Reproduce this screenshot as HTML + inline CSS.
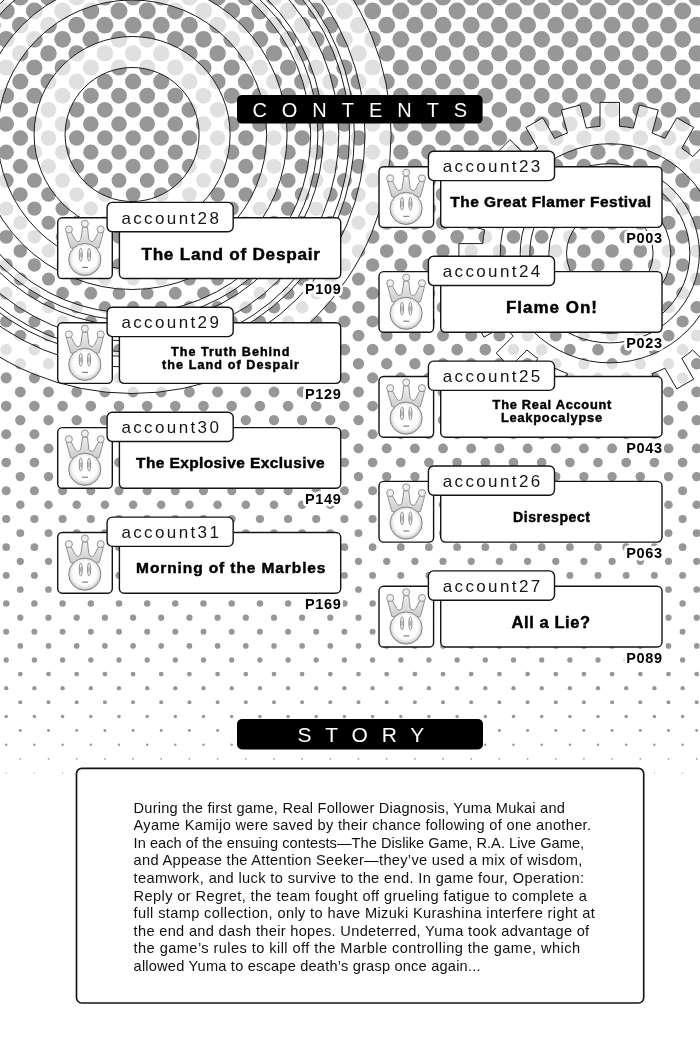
<!DOCTYPE html>
<html lang="en">
<head>
<meta charset="utf-8">
<title>Contents</title>
<style>
html,body{margin:0;padding:0;background:#fff}
body{width:700px;height:1050px;position:relative;overflow:hidden;font-family:"Liberation Sans",sans-serif;color:#000}
.bg{position:absolute;left:0;top:0}
div{position:absolute;white-space:nowrap}
.hd{color:#fff}
.tx{left:0;top:0;width:700px;height:1050px;filter:grayscale(1)}
.ac{font-size:17px;line-height:19.53px;color:#161616}
.tt{font-weight:bold;color:#000;-webkit-text-stroke:.45px #000}
.pg{font-weight:bold;font-size:14.5px;line-height:16.66px;text-shadow:2.60px 0.00px 0 #fff,2.47px 0.80px 0 #fff,2.10px 1.53px 0 #fff,1.53px 2.10px 0 #fff,0.80px 2.47px 0 #fff,0.00px 2.60px 0 #fff,-0.80px 2.47px 0 #fff,-1.53px 2.10px 0 #fff,-2.10px 1.53px 0 #fff,-2.47px 0.80px 0 #fff,-2.60px 0.00px 0 #fff,-2.47px -0.80px 0 #fff,-2.10px -1.53px 0 #fff,-1.53px -2.10px 0 #fff,-0.80px -2.47px 0 #fff,-0.00px -2.60px 0 #fff,0.80px -2.47px 0 #fff,1.53px -2.10px 0 #fff,2.10px -1.53px 0 #fff,2.47px -0.80px 0 #fff,1.60px 0.00px 0 #fff,1.39px 0.80px 0 #fff,0.80px 1.39px 0 #fff,0.00px 1.60px 0 #fff,-0.80px 1.39px 0 #fff,-1.39px 0.80px 0 #fff,-1.60px 0.00px 0 #fff,-1.39px -0.80px 0 #fff,-0.80px -1.39px 0 #fff,-0.00px -1.60px 0 #fff,0.80px -1.39px 0 #fff,1.39px -0.80px 0 #fff,0.80px 0.00px 0 #fff,0.57px 0.57px 0 #fff,0.00px 0.80px 0 #fff,-0.57px 0.57px 0 #fff,-0.80px 0.00px 0 #fff,-0.57px -0.57px 0 #fff,-0.00px -0.80px 0 #fff,0.57px -0.57px 0 #fff}
.sl{font-size:14.6px;line-height:16.78px;color:#111}
</style>
</head>
<body>
<svg class="bg" width="700" height="1050" viewBox="0 0 700 1050">
<defs>
<radialGradient id="ballg" cx="50%" cy="47%" r="52%">
<stop offset="0" stop-color="#ffffff"/><stop offset=".7" stop-color="#fdfdfd"/><stop offset=".86" stop-color="#e6e6e6"/><stop offset="1" stop-color="#b9b9b9"/>
</radialGradient>
<linearGradient id="crg" x1="0" y1="0" x2="0" y2="1">
<stop offset="0" stop-color="#eeeeee"/><stop offset="1" stop-color="#cdcdcd"/>
</linearGradient>
<linearGradient id="eyg" x1="0" y1="0" x2="0" y2="1">
<stop offset="0" stop-color="#ffffff"/><stop offset=".22" stop-color="#ffffff"/><stop offset=".4" stop-color="#bdbdbd"/><stop offset=".62" stop-color="#bdbdbd"/><stop offset=".8" stop-color="#ffffff"/><stop offset="1" stop-color="#ffffff"/>
</linearGradient>
<g id="ico">
<path d="M9.4 15.2 Q11 22 13.7 31 L42 31 Q44.8 22 46.2 15.2 L41.2 15.5 Q39 20 37.3 23 Q36.4 24.6 35.5 24.6 Q33 24.6 31.9 22.3 Q31 16 30.5 10.2 L25.5 10.2 Q25 16 23.7 22.3 Q22.8 24.6 20.5 24.6 Q19.4 24.6 18.5 23 Q16.5 20 14.4 15.5 Z" fill="url(#crg)" stroke="#8e8e8e" stroke-width="1" stroke-linejoin="round"/>
<circle cx="11.9" cy="12.3" r="3.5" fill="#efefef" stroke="#929292" stroke-width="1"/>
<circle cx="27.9" cy="6.6" r="3.5" fill="#efefef" stroke="#929292" stroke-width="1"/>
<circle cx="43.7" cy="12.3" r="3.5" fill="#efefef" stroke="#929292" stroke-width="1"/>
<circle cx="27.8" cy="42.4" r="16.1" fill="url(#ballg)" stroke="#848484" stroke-width="1"/>
<ellipse cx="23.75" cy="37.7" rx="1.55" ry="6.5" fill="url(#eyg)" stroke="#8a8a8a" stroke-width=".95"/>
<ellipse cx="32.1" cy="37.7" rx="1.55" ry="6.5" fill="url(#eyg)" stroke="#8a8a8a" stroke-width=".95"/>
<path d="M25.1 50.3H31" stroke="#6a6a6a" stroke-width="1"/>
</g>
</defs>
<g fill="#979797">
<circle cx="-7.8" cy="-3.0" r="8.57"/><circle cx="20.3" cy="-3.0" r="8.57"/><circle cx="48.5" cy="-3.0" r="8.57"/><circle cx="76.7" cy="-3.0" r="8.57"/><circle cx="104.9" cy="-3.0" r="8.57"/><circle cx="133.1" cy="-3.0" r="8.57"/><circle cx="161.2" cy="-3.0" r="8.57"/><circle cx="189.4" cy="-3.0" r="8.57"/><circle cx="217.6" cy="-3.0" r="8.57"/><circle cx="245.8" cy="-3.0" r="8.57"/><circle cx="274.0" cy="-3.0" r="8.57"/><circle cx="302.1" cy="-3.0" r="8.57"/><circle cx="330.3" cy="-3.0" r="8.57"/><circle cx="358.5" cy="-3.0" r="8.57"/><circle cx="386.7" cy="-3.0" r="8.57"/><circle cx="414.9" cy="-3.0" r="8.57"/><circle cx="443.0" cy="-3.0" r="8.57"/><circle cx="471.2" cy="-3.0" r="8.57"/><circle cx="499.4" cy="-3.0" r="8.57"/><circle cx="527.6" cy="-3.0" r="8.57"/><circle cx="555.8" cy="-3.0" r="8.57"/><circle cx="583.9" cy="-3.0" r="8.57"/><circle cx="612.1" cy="-3.0" r="8.57"/><circle cx="640.3" cy="-3.0" r="8.57"/><circle cx="668.5" cy="-3.0" r="8.57"/><circle cx="696.7" cy="-3.0" r="8.57"/><circle cx="724.8" cy="-3.0" r="8.57"/>
<circle cx="6.2" cy="11.1" r="8.50"/><circle cx="34.4" cy="11.1" r="8.50"/><circle cx="62.6" cy="11.1" r="8.50"/><circle cx="90.8" cy="11.1" r="8.50"/><circle cx="119.0" cy="11.1" r="8.50"/><circle cx="147.2" cy="11.1" r="8.50"/><circle cx="175.3" cy="11.1" r="8.50"/><circle cx="203.5" cy="11.1" r="8.50"/><circle cx="231.7" cy="11.1" r="8.50"/><circle cx="259.9" cy="11.1" r="8.50"/><circle cx="288.1" cy="11.1" r="8.50"/><circle cx="316.2" cy="11.1" r="8.50"/><circle cx="344.4" cy="11.1" r="8.50"/><circle cx="372.6" cy="11.1" r="8.50"/><circle cx="400.8" cy="11.1" r="8.50"/><circle cx="428.9" cy="11.1" r="8.50"/><circle cx="457.1" cy="11.1" r="8.50"/><circle cx="485.3" cy="11.1" r="8.50"/><circle cx="513.5" cy="11.1" r="8.50"/><circle cx="541.7" cy="11.1" r="8.50"/><circle cx="569.9" cy="11.1" r="8.50"/><circle cx="598.0" cy="11.1" r="8.50"/><circle cx="626.2" cy="11.1" r="8.50"/><circle cx="654.4" cy="11.1" r="8.50"/><circle cx="682.6" cy="11.1" r="8.50"/><circle cx="710.8" cy="11.1" r="8.50"/>
<circle cx="-7.8" cy="25.2" r="8.42"/><circle cx="20.3" cy="25.2" r="8.42"/><circle cx="48.5" cy="25.2" r="8.42"/><circle cx="76.7" cy="25.2" r="8.42"/><circle cx="104.9" cy="25.2" r="8.42"/><circle cx="133.1" cy="25.2" r="8.42"/><circle cx="161.2" cy="25.2" r="8.42"/><circle cx="189.4" cy="25.2" r="8.42"/><circle cx="217.6" cy="25.2" r="8.42"/><circle cx="245.8" cy="25.2" r="8.42"/><circle cx="274.0" cy="25.2" r="8.42"/><circle cx="302.1" cy="25.2" r="8.42"/><circle cx="330.3" cy="25.2" r="8.42"/><circle cx="358.5" cy="25.2" r="8.42"/><circle cx="386.7" cy="25.2" r="8.42"/><circle cx="414.9" cy="25.2" r="8.42"/><circle cx="443.0" cy="25.2" r="8.42"/><circle cx="471.2" cy="25.2" r="8.42"/><circle cx="499.4" cy="25.2" r="8.42"/><circle cx="527.6" cy="25.2" r="8.42"/><circle cx="555.8" cy="25.2" r="8.42"/><circle cx="583.9" cy="25.2" r="8.42"/><circle cx="612.1" cy="25.2" r="8.42"/><circle cx="640.3" cy="25.2" r="8.42"/><circle cx="668.5" cy="25.2" r="8.42"/><circle cx="696.7" cy="25.2" r="8.42"/><circle cx="724.8" cy="25.2" r="8.42"/>
<circle cx="6.2" cy="39.3" r="8.35"/><circle cx="34.4" cy="39.3" r="8.35"/><circle cx="62.6" cy="39.3" r="8.35"/><circle cx="90.8" cy="39.3" r="8.35"/><circle cx="119.0" cy="39.3" r="8.35"/><circle cx="147.2" cy="39.3" r="8.35"/><circle cx="175.3" cy="39.3" r="8.35"/><circle cx="203.5" cy="39.3" r="8.35"/><circle cx="231.7" cy="39.3" r="8.35"/><circle cx="259.9" cy="39.3" r="8.35"/><circle cx="288.1" cy="39.3" r="8.35"/><circle cx="316.2" cy="39.3" r="8.35"/><circle cx="344.4" cy="39.3" r="8.35"/><circle cx="372.6" cy="39.3" r="8.35"/><circle cx="400.8" cy="39.3" r="8.35"/><circle cx="428.9" cy="39.3" r="8.35"/><circle cx="457.1" cy="39.3" r="8.35"/><circle cx="485.3" cy="39.3" r="8.35"/><circle cx="513.5" cy="39.3" r="8.35"/><circle cx="541.7" cy="39.3" r="8.35"/><circle cx="569.9" cy="39.3" r="8.35"/><circle cx="598.0" cy="39.3" r="8.35"/><circle cx="626.2" cy="39.3" r="8.35"/><circle cx="654.4" cy="39.3" r="8.35"/><circle cx="682.6" cy="39.3" r="8.35"/><circle cx="710.8" cy="39.3" r="8.35"/>
<circle cx="-7.8" cy="53.4" r="8.22"/><circle cx="20.3" cy="53.4" r="8.22"/><circle cx="48.5" cy="53.4" r="8.22"/><circle cx="76.7" cy="53.4" r="8.22"/><circle cx="104.9" cy="53.4" r="8.22"/><circle cx="133.1" cy="53.4" r="8.22"/><circle cx="161.2" cy="53.4" r="8.22"/><circle cx="189.4" cy="53.4" r="8.22"/><circle cx="217.6" cy="53.4" r="8.22"/><circle cx="245.8" cy="53.4" r="8.22"/><circle cx="274.0" cy="53.4" r="8.22"/><circle cx="302.1" cy="53.4" r="8.22"/><circle cx="330.3" cy="53.4" r="8.22"/><circle cx="358.5" cy="53.4" r="8.22"/><circle cx="386.7" cy="53.4" r="8.22"/><circle cx="414.9" cy="53.4" r="8.22"/><circle cx="443.0" cy="53.4" r="8.22"/><circle cx="471.2" cy="53.4" r="8.22"/><circle cx="499.4" cy="53.4" r="8.22"/><circle cx="527.6" cy="53.4" r="8.22"/><circle cx="555.8" cy="53.4" r="8.22"/><circle cx="583.9" cy="53.4" r="8.22"/><circle cx="612.1" cy="53.4" r="8.22"/><circle cx="640.3" cy="53.4" r="8.22"/><circle cx="668.5" cy="53.4" r="8.22"/><circle cx="696.7" cy="53.4" r="8.22"/><circle cx="724.8" cy="53.4" r="8.22"/>
<circle cx="6.2" cy="67.5" r="8.10"/><circle cx="34.4" cy="67.5" r="8.10"/><circle cx="62.6" cy="67.5" r="8.10"/><circle cx="90.8" cy="67.5" r="8.10"/><circle cx="119.0" cy="67.5" r="8.10"/><circle cx="147.2" cy="67.5" r="8.10"/><circle cx="175.3" cy="67.5" r="8.10"/><circle cx="203.5" cy="67.5" r="8.10"/><circle cx="231.7" cy="67.5" r="8.10"/><circle cx="259.9" cy="67.5" r="8.10"/><circle cx="288.1" cy="67.5" r="8.10"/><circle cx="316.2" cy="67.5" r="8.10"/><circle cx="344.4" cy="67.5" r="8.10"/><circle cx="372.6" cy="67.5" r="8.10"/><circle cx="400.8" cy="67.5" r="8.10"/><circle cx="428.9" cy="67.5" r="8.10"/><circle cx="457.1" cy="67.5" r="8.10"/><circle cx="485.3" cy="67.5" r="8.10"/><circle cx="513.5" cy="67.5" r="8.10"/><circle cx="541.7" cy="67.5" r="8.10"/><circle cx="569.9" cy="67.5" r="8.10"/><circle cx="598.0" cy="67.5" r="8.10"/><circle cx="626.2" cy="67.5" r="8.10"/><circle cx="654.4" cy="67.5" r="8.10"/><circle cx="682.6" cy="67.5" r="8.10"/><circle cx="710.8" cy="67.5" r="8.10"/>
<circle cx="-7.8" cy="81.6" r="8.00"/><circle cx="20.3" cy="81.6" r="8.00"/><circle cx="48.5" cy="81.6" r="8.00"/><circle cx="76.7" cy="81.6" r="8.00"/><circle cx="104.9" cy="81.6" r="8.00"/><circle cx="133.1" cy="81.6" r="8.00"/><circle cx="161.2" cy="81.6" r="8.00"/><circle cx="189.4" cy="81.6" r="8.00"/><circle cx="217.6" cy="81.6" r="8.00"/><circle cx="245.8" cy="81.6" r="8.00"/><circle cx="274.0" cy="81.6" r="8.00"/><circle cx="302.1" cy="81.6" r="8.00"/><circle cx="330.3" cy="81.6" r="8.00"/><circle cx="358.5" cy="81.6" r="8.00"/><circle cx="386.7" cy="81.6" r="8.00"/><circle cx="414.9" cy="81.6" r="8.00"/><circle cx="443.0" cy="81.6" r="8.00"/><circle cx="471.2" cy="81.6" r="8.00"/><circle cx="499.4" cy="81.6" r="8.00"/><circle cx="527.6" cy="81.6" r="8.00"/><circle cx="555.8" cy="81.6" r="8.00"/><circle cx="583.9" cy="81.6" r="8.00"/><circle cx="612.1" cy="81.6" r="8.00"/><circle cx="640.3" cy="81.6" r="8.00"/><circle cx="668.5" cy="81.6" r="8.00"/><circle cx="696.7" cy="81.6" r="8.00"/><circle cx="724.8" cy="81.6" r="8.00"/>
<circle cx="6.2" cy="95.7" r="7.94"/><circle cx="34.4" cy="95.7" r="7.94"/><circle cx="62.6" cy="95.7" r="7.94"/><circle cx="90.8" cy="95.7" r="7.94"/><circle cx="119.0" cy="95.7" r="7.94"/><circle cx="147.2" cy="95.7" r="7.94"/><circle cx="175.3" cy="95.7" r="7.94"/><circle cx="203.5" cy="95.7" r="7.94"/><circle cx="231.7" cy="95.7" r="7.94"/><circle cx="259.9" cy="95.7" r="7.94"/><circle cx="288.1" cy="95.7" r="7.94"/><circle cx="316.2" cy="95.7" r="7.94"/><circle cx="344.4" cy="95.7" r="7.94"/><circle cx="372.6" cy="95.7" r="7.94"/><circle cx="400.8" cy="95.7" r="7.94"/><circle cx="428.9" cy="95.7" r="7.94"/><circle cx="457.1" cy="95.7" r="7.94"/><circle cx="485.3" cy="95.7" r="7.94"/><circle cx="513.5" cy="95.7" r="7.94"/><circle cx="541.7" cy="95.7" r="7.94"/><circle cx="569.9" cy="95.7" r="7.94"/><circle cx="598.0" cy="95.7" r="7.94"/><circle cx="626.2" cy="95.7" r="7.94"/><circle cx="654.4" cy="95.7" r="7.94"/><circle cx="682.6" cy="95.7" r="7.94"/><circle cx="710.8" cy="95.7" r="7.94"/>
<circle cx="-7.8" cy="109.8" r="7.88"/><circle cx="20.3" cy="109.8" r="7.88"/><circle cx="48.5" cy="109.8" r="7.88"/><circle cx="76.7" cy="109.8" r="7.88"/><circle cx="104.9" cy="109.8" r="7.88"/><circle cx="133.1" cy="109.8" r="7.88"/><circle cx="161.2" cy="109.8" r="7.88"/><circle cx="189.4" cy="109.8" r="7.88"/><circle cx="217.6" cy="109.8" r="7.88"/><circle cx="245.8" cy="109.8" r="7.88"/><circle cx="274.0" cy="109.8" r="7.88"/><circle cx="302.1" cy="109.8" r="7.88"/><circle cx="330.3" cy="109.8" r="7.88"/><circle cx="358.5" cy="109.8" r="7.88"/><circle cx="386.7" cy="109.8" r="7.88"/><circle cx="414.9" cy="109.8" r="7.88"/><circle cx="443.0" cy="109.8" r="7.88"/><circle cx="471.2" cy="109.8" r="7.88"/><circle cx="499.4" cy="109.8" r="7.88"/><circle cx="527.6" cy="109.8" r="7.88"/><circle cx="555.8" cy="109.8" r="7.88"/><circle cx="583.9" cy="109.8" r="7.88"/><circle cx="612.1" cy="109.8" r="7.88"/><circle cx="640.3" cy="109.8" r="7.88"/><circle cx="668.5" cy="109.8" r="7.88"/><circle cx="696.7" cy="109.8" r="7.88"/><circle cx="724.8" cy="109.8" r="7.88"/>
<circle cx="6.2" cy="124.0" r="7.82"/><circle cx="34.4" cy="124.0" r="7.82"/><circle cx="62.6" cy="124.0" r="7.82"/><circle cx="90.8" cy="124.0" r="7.82"/><circle cx="119.0" cy="124.0" r="7.82"/><circle cx="147.2" cy="124.0" r="7.82"/><circle cx="175.3" cy="124.0" r="7.82"/><circle cx="203.5" cy="124.0" r="7.82"/><circle cx="231.7" cy="124.0" r="7.82"/><circle cx="259.9" cy="124.0" r="7.82"/><circle cx="288.1" cy="124.0" r="7.82"/><circle cx="316.2" cy="124.0" r="7.82"/><circle cx="344.4" cy="124.0" r="7.82"/><circle cx="372.6" cy="124.0" r="7.82"/><circle cx="400.8" cy="124.0" r="7.82"/><circle cx="428.9" cy="124.0" r="7.82"/><circle cx="457.1" cy="124.0" r="7.82"/><circle cx="485.3" cy="124.0" r="7.82"/><circle cx="513.5" cy="124.0" r="7.82"/><circle cx="541.7" cy="124.0" r="7.82"/><circle cx="569.9" cy="124.0" r="7.82"/><circle cx="598.0" cy="124.0" r="7.82"/><circle cx="626.2" cy="124.0" r="7.82"/><circle cx="654.4" cy="124.0" r="7.82"/><circle cx="682.6" cy="124.0" r="7.82"/><circle cx="710.8" cy="124.0" r="7.82"/>
<circle cx="-7.8" cy="138.1" r="7.76"/><circle cx="20.3" cy="138.1" r="7.76"/><circle cx="48.5" cy="138.1" r="7.76"/><circle cx="76.7" cy="138.1" r="7.76"/><circle cx="104.9" cy="138.1" r="7.76"/><circle cx="133.1" cy="138.1" r="7.76"/><circle cx="161.2" cy="138.1" r="7.76"/><circle cx="189.4" cy="138.1" r="7.76"/><circle cx="217.6" cy="138.1" r="7.76"/><circle cx="245.8" cy="138.1" r="7.76"/><circle cx="274.0" cy="138.1" r="7.76"/><circle cx="302.1" cy="138.1" r="7.76"/><circle cx="330.3" cy="138.1" r="7.76"/><circle cx="358.5" cy="138.1" r="7.76"/><circle cx="386.7" cy="138.1" r="7.76"/><circle cx="414.9" cy="138.1" r="7.76"/><circle cx="443.0" cy="138.1" r="7.76"/><circle cx="471.2" cy="138.1" r="7.76"/><circle cx="499.4" cy="138.1" r="7.76"/><circle cx="527.6" cy="138.1" r="7.76"/><circle cx="555.8" cy="138.1" r="7.76"/><circle cx="583.9" cy="138.1" r="7.76"/><circle cx="612.1" cy="138.1" r="7.76"/><circle cx="640.3" cy="138.1" r="7.76"/><circle cx="668.5" cy="138.1" r="7.76"/><circle cx="696.7" cy="138.1" r="7.76"/><circle cx="724.8" cy="138.1" r="7.76"/>
<circle cx="6.2" cy="152.2" r="7.65"/><circle cx="34.4" cy="152.2" r="7.65"/><circle cx="62.6" cy="152.2" r="7.65"/><circle cx="90.8" cy="152.2" r="7.65"/><circle cx="119.0" cy="152.2" r="7.65"/><circle cx="147.2" cy="152.2" r="7.65"/><circle cx="175.3" cy="152.2" r="7.65"/><circle cx="203.5" cy="152.2" r="7.65"/><circle cx="231.7" cy="152.2" r="7.65"/><circle cx="259.9" cy="152.2" r="7.65"/><circle cx="288.1" cy="152.2" r="7.65"/><circle cx="316.2" cy="152.2" r="7.65"/><circle cx="344.4" cy="152.2" r="7.65"/><circle cx="372.6" cy="152.2" r="7.65"/><circle cx="400.8" cy="152.2" r="7.65"/><circle cx="428.9" cy="152.2" r="7.65"/><circle cx="457.1" cy="152.2" r="7.65"/><circle cx="485.3" cy="152.2" r="7.65"/><circle cx="513.5" cy="152.2" r="7.65"/><circle cx="541.7" cy="152.2" r="7.65"/><circle cx="569.9" cy="152.2" r="7.65"/><circle cx="598.0" cy="152.2" r="7.65"/><circle cx="626.2" cy="152.2" r="7.65"/><circle cx="654.4" cy="152.2" r="7.65"/><circle cx="682.6" cy="152.2" r="7.65"/><circle cx="710.8" cy="152.2" r="7.65"/>
<circle cx="-7.8" cy="166.3" r="7.53"/><circle cx="20.3" cy="166.3" r="7.53"/><circle cx="48.5" cy="166.3" r="7.53"/><circle cx="76.7" cy="166.3" r="7.53"/><circle cx="104.9" cy="166.3" r="7.53"/><circle cx="133.1" cy="166.3" r="7.53"/><circle cx="161.2" cy="166.3" r="7.53"/><circle cx="189.4" cy="166.3" r="7.53"/><circle cx="217.6" cy="166.3" r="7.53"/><circle cx="245.8" cy="166.3" r="7.53"/><circle cx="274.0" cy="166.3" r="7.53"/><circle cx="302.1" cy="166.3" r="7.53"/><circle cx="330.3" cy="166.3" r="7.53"/><circle cx="358.5" cy="166.3" r="7.53"/><circle cx="386.7" cy="166.3" r="7.53"/><circle cx="414.9" cy="166.3" r="7.53"/><circle cx="443.0" cy="166.3" r="7.53"/><circle cx="471.2" cy="166.3" r="7.53"/><circle cx="499.4" cy="166.3" r="7.53"/><circle cx="527.6" cy="166.3" r="7.53"/><circle cx="555.8" cy="166.3" r="7.53"/><circle cx="583.9" cy="166.3" r="7.53"/><circle cx="612.1" cy="166.3" r="7.53"/><circle cx="640.3" cy="166.3" r="7.53"/><circle cx="668.5" cy="166.3" r="7.53"/><circle cx="696.7" cy="166.3" r="7.53"/><circle cx="724.8" cy="166.3" r="7.53"/>
<circle cx="6.2" cy="180.4" r="7.41"/><circle cx="34.4" cy="180.4" r="7.41"/><circle cx="62.6" cy="180.4" r="7.41"/><circle cx="90.8" cy="180.4" r="7.41"/><circle cx="119.0" cy="180.4" r="7.41"/><circle cx="147.2" cy="180.4" r="7.41"/><circle cx="175.3" cy="180.4" r="7.41"/><circle cx="203.5" cy="180.4" r="7.41"/><circle cx="231.7" cy="180.4" r="7.41"/><circle cx="259.9" cy="180.4" r="7.41"/><circle cx="288.1" cy="180.4" r="7.41"/><circle cx="316.2" cy="180.4" r="7.41"/><circle cx="344.4" cy="180.4" r="7.41"/><circle cx="372.6" cy="180.4" r="7.41"/><circle cx="400.8" cy="180.4" r="7.41"/><circle cx="428.9" cy="180.4" r="7.41"/><circle cx="457.1" cy="180.4" r="7.41"/><circle cx="485.3" cy="180.4" r="7.41"/><circle cx="513.5" cy="180.4" r="7.41"/><circle cx="541.7" cy="180.4" r="7.41"/><circle cx="569.9" cy="180.4" r="7.41"/><circle cx="598.0" cy="180.4" r="7.41"/><circle cx="626.2" cy="180.4" r="7.41"/><circle cx="654.4" cy="180.4" r="7.41"/><circle cx="682.6" cy="180.4" r="7.41"/><circle cx="710.8" cy="180.4" r="7.41"/>
<circle cx="-7.8" cy="194.5" r="7.30"/><circle cx="20.3" cy="194.5" r="7.30"/><circle cx="48.5" cy="194.5" r="7.30"/><circle cx="76.7" cy="194.5" r="7.30"/><circle cx="104.9" cy="194.5" r="7.30"/><circle cx="133.1" cy="194.5" r="7.30"/><circle cx="161.2" cy="194.5" r="7.30"/><circle cx="189.4" cy="194.5" r="7.30"/><circle cx="217.6" cy="194.5" r="7.30"/><circle cx="245.8" cy="194.5" r="7.30"/><circle cx="274.0" cy="194.5" r="7.30"/><circle cx="302.1" cy="194.5" r="7.30"/><circle cx="330.3" cy="194.5" r="7.30"/><circle cx="358.5" cy="194.5" r="7.30"/><circle cx="386.7" cy="194.5" r="7.30"/><circle cx="414.9" cy="194.5" r="7.30"/><circle cx="443.0" cy="194.5" r="7.30"/><circle cx="471.2" cy="194.5" r="7.30"/><circle cx="499.4" cy="194.5" r="7.30"/><circle cx="527.6" cy="194.5" r="7.30"/><circle cx="555.8" cy="194.5" r="7.30"/><circle cx="583.9" cy="194.5" r="7.30"/><circle cx="612.1" cy="194.5" r="7.30"/><circle cx="640.3" cy="194.5" r="7.30"/><circle cx="668.5" cy="194.5" r="7.30"/><circle cx="696.7" cy="194.5" r="7.30"/><circle cx="724.8" cy="194.5" r="7.30"/>
<circle cx="6.2" cy="208.6" r="7.17"/><circle cx="34.4" cy="208.6" r="7.17"/><circle cx="62.6" cy="208.6" r="7.17"/><circle cx="90.8" cy="208.6" r="7.17"/><circle cx="119.0" cy="208.6" r="7.17"/><circle cx="147.2" cy="208.6" r="7.17"/><circle cx="175.3" cy="208.6" r="7.17"/><circle cx="203.5" cy="208.6" r="7.17"/><circle cx="231.7" cy="208.6" r="7.17"/><circle cx="259.9" cy="208.6" r="7.17"/><circle cx="288.1" cy="208.6" r="7.17"/><circle cx="316.2" cy="208.6" r="7.17"/><circle cx="344.4" cy="208.6" r="7.17"/><circle cx="372.6" cy="208.6" r="7.17"/><circle cx="400.8" cy="208.6" r="7.17"/><circle cx="428.9" cy="208.6" r="7.17"/><circle cx="457.1" cy="208.6" r="7.17"/><circle cx="485.3" cy="208.6" r="7.17"/><circle cx="513.5" cy="208.6" r="7.17"/><circle cx="541.7" cy="208.6" r="7.17"/><circle cx="569.9" cy="208.6" r="7.17"/><circle cx="598.0" cy="208.6" r="7.17"/><circle cx="626.2" cy="208.6" r="7.17"/><circle cx="654.4" cy="208.6" r="7.17"/><circle cx="682.6" cy="208.6" r="7.17"/><circle cx="710.8" cy="208.6" r="7.17"/>
<circle cx="-7.8" cy="222.7" r="7.04"/><circle cx="20.3" cy="222.7" r="7.04"/><circle cx="48.5" cy="222.7" r="7.04"/><circle cx="76.7" cy="222.7" r="7.04"/><circle cx="104.9" cy="222.7" r="7.04"/><circle cx="133.1" cy="222.7" r="7.04"/><circle cx="161.2" cy="222.7" r="7.04"/><circle cx="189.4" cy="222.7" r="7.04"/><circle cx="217.6" cy="222.7" r="7.04"/><circle cx="245.8" cy="222.7" r="7.04"/><circle cx="274.0" cy="222.7" r="7.04"/><circle cx="302.1" cy="222.7" r="7.04"/><circle cx="330.3" cy="222.7" r="7.04"/><circle cx="358.5" cy="222.7" r="7.04"/><circle cx="386.7" cy="222.7" r="7.04"/><circle cx="414.9" cy="222.7" r="7.04"/><circle cx="443.0" cy="222.7" r="7.04"/><circle cx="471.2" cy="222.7" r="7.04"/><circle cx="499.4" cy="222.7" r="7.04"/><circle cx="527.6" cy="222.7" r="7.04"/><circle cx="555.8" cy="222.7" r="7.04"/><circle cx="583.9" cy="222.7" r="7.04"/><circle cx="612.1" cy="222.7" r="7.04"/><circle cx="640.3" cy="222.7" r="7.04"/><circle cx="668.5" cy="222.7" r="7.04"/><circle cx="696.7" cy="222.7" r="7.04"/><circle cx="724.8" cy="222.7" r="7.04"/>
<circle cx="6.2" cy="236.8" r="6.90"/><circle cx="34.4" cy="236.8" r="6.90"/><circle cx="62.6" cy="236.8" r="6.90"/><circle cx="90.8" cy="236.8" r="6.90"/><circle cx="119.0" cy="236.8" r="6.90"/><circle cx="147.2" cy="236.8" r="6.90"/><circle cx="175.3" cy="236.8" r="6.90"/><circle cx="203.5" cy="236.8" r="6.90"/><circle cx="231.7" cy="236.8" r="6.90"/><circle cx="259.9" cy="236.8" r="6.90"/><circle cx="288.1" cy="236.8" r="6.90"/><circle cx="316.2" cy="236.8" r="6.90"/><circle cx="344.4" cy="236.8" r="6.90"/><circle cx="372.6" cy="236.8" r="6.90"/><circle cx="400.8" cy="236.8" r="6.90"/><circle cx="428.9" cy="236.8" r="6.90"/><circle cx="457.1" cy="236.8" r="6.90"/><circle cx="485.3" cy="236.8" r="6.90"/><circle cx="513.5" cy="236.8" r="6.90"/><circle cx="541.7" cy="236.8" r="6.90"/><circle cx="569.9" cy="236.8" r="6.90"/><circle cx="598.0" cy="236.8" r="6.90"/><circle cx="626.2" cy="236.8" r="6.90"/><circle cx="654.4" cy="236.8" r="6.90"/><circle cx="682.6" cy="236.8" r="6.90"/><circle cx="710.8" cy="236.8" r="6.90"/>
<circle cx="-7.8" cy="250.9" r="6.77"/><circle cx="20.3" cy="250.9" r="6.77"/><circle cx="48.5" cy="250.9" r="6.77"/><circle cx="76.7" cy="250.9" r="6.77"/><circle cx="104.9" cy="250.9" r="6.77"/><circle cx="133.1" cy="250.9" r="6.77"/><circle cx="161.2" cy="250.9" r="6.77"/><circle cx="189.4" cy="250.9" r="6.77"/><circle cx="217.6" cy="250.9" r="6.77"/><circle cx="245.8" cy="250.9" r="6.77"/><circle cx="274.0" cy="250.9" r="6.77"/><circle cx="302.1" cy="250.9" r="6.77"/><circle cx="330.3" cy="250.9" r="6.77"/><circle cx="358.5" cy="250.9" r="6.77"/><circle cx="386.7" cy="250.9" r="6.77"/><circle cx="414.9" cy="250.9" r="6.77"/><circle cx="443.0" cy="250.9" r="6.77"/><circle cx="471.2" cy="250.9" r="6.77"/><circle cx="499.4" cy="250.9" r="6.77"/><circle cx="527.6" cy="250.9" r="6.77"/><circle cx="555.8" cy="250.9" r="6.77"/><circle cx="583.9" cy="250.9" r="6.77"/><circle cx="612.1" cy="250.9" r="6.77"/><circle cx="640.3" cy="250.9" r="6.77"/><circle cx="668.5" cy="250.9" r="6.77"/><circle cx="696.7" cy="250.9" r="6.77"/><circle cx="724.8" cy="250.9" r="6.77"/>
<circle cx="6.2" cy="265.0" r="6.64"/><circle cx="34.4" cy="265.0" r="6.64"/><circle cx="62.6" cy="265.0" r="6.64"/><circle cx="90.8" cy="265.0" r="6.64"/><circle cx="119.0" cy="265.0" r="6.64"/><circle cx="147.2" cy="265.0" r="6.64"/><circle cx="175.3" cy="265.0" r="6.64"/><circle cx="203.5" cy="265.0" r="6.64"/><circle cx="231.7" cy="265.0" r="6.64"/><circle cx="259.9" cy="265.0" r="6.64"/><circle cx="288.1" cy="265.0" r="6.64"/><circle cx="316.2" cy="265.0" r="6.64"/><circle cx="344.4" cy="265.0" r="6.64"/><circle cx="372.6" cy="265.0" r="6.64"/><circle cx="400.8" cy="265.0" r="6.64"/><circle cx="428.9" cy="265.0" r="6.64"/><circle cx="457.1" cy="265.0" r="6.64"/><circle cx="485.3" cy="265.0" r="6.64"/><circle cx="513.5" cy="265.0" r="6.64"/><circle cx="541.7" cy="265.0" r="6.64"/><circle cx="569.9" cy="265.0" r="6.64"/><circle cx="598.0" cy="265.0" r="6.64"/><circle cx="626.2" cy="265.0" r="6.64"/><circle cx="654.4" cy="265.0" r="6.64"/><circle cx="682.6" cy="265.0" r="6.64"/><circle cx="710.8" cy="265.0" r="6.64"/>
<circle cx="-7.8" cy="279.1" r="6.51"/><circle cx="20.3" cy="279.1" r="6.51"/><circle cx="48.5" cy="279.1" r="6.51"/><circle cx="76.7" cy="279.1" r="6.51"/><circle cx="104.9" cy="279.1" r="6.51"/><circle cx="133.1" cy="279.1" r="6.51"/><circle cx="161.2" cy="279.1" r="6.51"/><circle cx="189.4" cy="279.1" r="6.51"/><circle cx="217.6" cy="279.1" r="6.51"/><circle cx="245.8" cy="279.1" r="6.51"/><circle cx="274.0" cy="279.1" r="6.51"/><circle cx="302.1" cy="279.1" r="6.51"/><circle cx="330.3" cy="279.1" r="6.51"/><circle cx="358.5" cy="279.1" r="6.51"/><circle cx="386.7" cy="279.1" r="6.51"/><circle cx="414.9" cy="279.1" r="6.51"/><circle cx="443.0" cy="279.1" r="6.51"/><circle cx="471.2" cy="279.1" r="6.51"/><circle cx="499.4" cy="279.1" r="6.51"/><circle cx="527.6" cy="279.1" r="6.51"/><circle cx="555.8" cy="279.1" r="6.51"/><circle cx="583.9" cy="279.1" r="6.51"/><circle cx="612.1" cy="279.1" r="6.51"/><circle cx="640.3" cy="279.1" r="6.51"/><circle cx="668.5" cy="279.1" r="6.51"/><circle cx="696.7" cy="279.1" r="6.51"/><circle cx="724.8" cy="279.1" r="6.51"/>
<circle cx="6.2" cy="293.2" r="6.38"/><circle cx="34.4" cy="293.2" r="6.38"/><circle cx="62.6" cy="293.2" r="6.38"/><circle cx="90.8" cy="293.2" r="6.38"/><circle cx="119.0" cy="293.2" r="6.38"/><circle cx="147.2" cy="293.2" r="6.38"/><circle cx="175.3" cy="293.2" r="6.38"/><circle cx="203.5" cy="293.2" r="6.38"/><circle cx="231.7" cy="293.2" r="6.38"/><circle cx="259.9" cy="293.2" r="6.38"/><circle cx="288.1" cy="293.2" r="6.38"/><circle cx="316.2" cy="293.2" r="6.38"/><circle cx="344.4" cy="293.2" r="6.38"/><circle cx="372.6" cy="293.2" r="6.38"/><circle cx="400.8" cy="293.2" r="6.38"/><circle cx="428.9" cy="293.2" r="6.38"/><circle cx="457.1" cy="293.2" r="6.38"/><circle cx="485.3" cy="293.2" r="6.38"/><circle cx="513.5" cy="293.2" r="6.38"/><circle cx="541.7" cy="293.2" r="6.38"/><circle cx="569.9" cy="293.2" r="6.38"/><circle cx="598.0" cy="293.2" r="6.38"/><circle cx="626.2" cy="293.2" r="6.38"/><circle cx="654.4" cy="293.2" r="6.38"/><circle cx="682.6" cy="293.2" r="6.38"/><circle cx="710.8" cy="293.2" r="6.38"/>
<circle cx="-7.8" cy="307.3" r="6.25"/><circle cx="20.3" cy="307.3" r="6.25"/><circle cx="48.5" cy="307.3" r="6.25"/><circle cx="76.7" cy="307.3" r="6.25"/><circle cx="104.9" cy="307.3" r="6.25"/><circle cx="133.1" cy="307.3" r="6.25"/><circle cx="161.2" cy="307.3" r="6.25"/><circle cx="189.4" cy="307.3" r="6.25"/><circle cx="217.6" cy="307.3" r="6.25"/><circle cx="245.8" cy="307.3" r="6.25"/><circle cx="274.0" cy="307.3" r="6.25"/><circle cx="302.1" cy="307.3" r="6.25"/><circle cx="330.3" cy="307.3" r="6.25"/><circle cx="358.5" cy="307.3" r="6.25"/><circle cx="386.7" cy="307.3" r="6.25"/><circle cx="414.9" cy="307.3" r="6.25"/><circle cx="443.0" cy="307.3" r="6.25"/><circle cx="471.2" cy="307.3" r="6.25"/><circle cx="499.4" cy="307.3" r="6.25"/><circle cx="527.6" cy="307.3" r="6.25"/><circle cx="555.8" cy="307.3" r="6.25"/><circle cx="583.9" cy="307.3" r="6.25"/><circle cx="612.1" cy="307.3" r="6.25"/><circle cx="640.3" cy="307.3" r="6.25"/><circle cx="668.5" cy="307.3" r="6.25"/><circle cx="696.7" cy="307.3" r="6.25"/><circle cx="724.8" cy="307.3" r="6.25"/>
<circle cx="6.2" cy="321.5" r="6.11"/><circle cx="34.4" cy="321.5" r="6.11"/><circle cx="62.6" cy="321.5" r="6.11"/><circle cx="90.8" cy="321.5" r="6.11"/><circle cx="119.0" cy="321.5" r="6.11"/><circle cx="147.2" cy="321.5" r="6.11"/><circle cx="175.3" cy="321.5" r="6.11"/><circle cx="203.5" cy="321.5" r="6.11"/><circle cx="231.7" cy="321.5" r="6.11"/><circle cx="259.9" cy="321.5" r="6.11"/><circle cx="288.1" cy="321.5" r="6.11"/><circle cx="316.2" cy="321.5" r="6.11"/><circle cx="344.4" cy="321.5" r="6.11"/><circle cx="372.6" cy="321.5" r="6.11"/><circle cx="400.8" cy="321.5" r="6.11"/><circle cx="428.9" cy="321.5" r="6.11"/><circle cx="457.1" cy="321.5" r="6.11"/><circle cx="485.3" cy="321.5" r="6.11"/><circle cx="513.5" cy="321.5" r="6.11"/><circle cx="541.7" cy="321.5" r="6.11"/><circle cx="569.9" cy="321.5" r="6.11"/><circle cx="598.0" cy="321.5" r="6.11"/><circle cx="626.2" cy="321.5" r="6.11"/><circle cx="654.4" cy="321.5" r="6.11"/><circle cx="682.6" cy="321.5" r="6.11"/><circle cx="710.8" cy="321.5" r="6.11"/>
<circle cx="-7.8" cy="335.6" r="5.97"/><circle cx="20.3" cy="335.6" r="5.97"/><circle cx="48.5" cy="335.6" r="5.97"/><circle cx="76.7" cy="335.6" r="5.97"/><circle cx="104.9" cy="335.6" r="5.97"/><circle cx="133.1" cy="335.6" r="5.97"/><circle cx="161.2" cy="335.6" r="5.97"/><circle cx="189.4" cy="335.6" r="5.97"/><circle cx="217.6" cy="335.6" r="5.97"/><circle cx="245.8" cy="335.6" r="5.97"/><circle cx="274.0" cy="335.6" r="5.97"/><circle cx="302.1" cy="335.6" r="5.97"/><circle cx="330.3" cy="335.6" r="5.97"/><circle cx="358.5" cy="335.6" r="5.97"/><circle cx="386.7" cy="335.6" r="5.97"/><circle cx="414.9" cy="335.6" r="5.97"/><circle cx="443.0" cy="335.6" r="5.97"/><circle cx="471.2" cy="335.6" r="5.97"/><circle cx="499.4" cy="335.6" r="5.97"/><circle cx="527.6" cy="335.6" r="5.97"/><circle cx="555.8" cy="335.6" r="5.97"/><circle cx="583.9" cy="335.6" r="5.97"/><circle cx="612.1" cy="335.6" r="5.97"/><circle cx="640.3" cy="335.6" r="5.97"/><circle cx="668.5" cy="335.6" r="5.97"/><circle cx="696.7" cy="335.6" r="5.97"/><circle cx="724.8" cy="335.6" r="5.97"/>
<circle cx="6.2" cy="349.7" r="5.83"/><circle cx="34.4" cy="349.7" r="5.83"/><circle cx="62.6" cy="349.7" r="5.83"/><circle cx="90.8" cy="349.7" r="5.83"/><circle cx="119.0" cy="349.7" r="5.83"/><circle cx="147.2" cy="349.7" r="5.83"/><circle cx="175.3" cy="349.7" r="5.83"/><circle cx="203.5" cy="349.7" r="5.83"/><circle cx="231.7" cy="349.7" r="5.83"/><circle cx="259.9" cy="349.7" r="5.83"/><circle cx="288.1" cy="349.7" r="5.83"/><circle cx="316.2" cy="349.7" r="5.83"/><circle cx="344.4" cy="349.7" r="5.83"/><circle cx="372.6" cy="349.7" r="5.83"/><circle cx="400.8" cy="349.7" r="5.83"/><circle cx="428.9" cy="349.7" r="5.83"/><circle cx="457.1" cy="349.7" r="5.83"/><circle cx="485.3" cy="349.7" r="5.83"/><circle cx="513.5" cy="349.7" r="5.83"/><circle cx="541.7" cy="349.7" r="5.83"/><circle cx="569.9" cy="349.7" r="5.83"/><circle cx="598.0" cy="349.7" r="5.83"/><circle cx="626.2" cy="349.7" r="5.83"/><circle cx="654.4" cy="349.7" r="5.83"/><circle cx="682.6" cy="349.7" r="5.83"/><circle cx="710.8" cy="349.7" r="5.83"/>
<circle cx="-7.8" cy="363.8" r="5.69"/><circle cx="20.3" cy="363.8" r="5.69"/><circle cx="48.5" cy="363.8" r="5.69"/><circle cx="76.7" cy="363.8" r="5.69"/><circle cx="104.9" cy="363.8" r="5.69"/><circle cx="133.1" cy="363.8" r="5.69"/><circle cx="161.2" cy="363.8" r="5.69"/><circle cx="189.4" cy="363.8" r="5.69"/><circle cx="217.6" cy="363.8" r="5.69"/><circle cx="245.8" cy="363.8" r="5.69"/><circle cx="274.0" cy="363.8" r="5.69"/><circle cx="302.1" cy="363.8" r="5.69"/><circle cx="330.3" cy="363.8" r="5.69"/><circle cx="358.5" cy="363.8" r="5.69"/><circle cx="386.7" cy="363.8" r="5.69"/><circle cx="414.9" cy="363.8" r="5.69"/><circle cx="443.0" cy="363.8" r="5.69"/><circle cx="471.2" cy="363.8" r="5.69"/><circle cx="499.4" cy="363.8" r="5.69"/><circle cx="527.6" cy="363.8" r="5.69"/><circle cx="555.8" cy="363.8" r="5.69"/><circle cx="583.9" cy="363.8" r="5.69"/><circle cx="612.1" cy="363.8" r="5.69"/><circle cx="640.3" cy="363.8" r="5.69"/><circle cx="668.5" cy="363.8" r="5.69"/><circle cx="696.7" cy="363.8" r="5.69"/><circle cx="724.8" cy="363.8" r="5.69"/>
<circle cx="6.2" cy="377.9" r="5.55"/><circle cx="34.4" cy="377.9" r="5.55"/><circle cx="62.6" cy="377.9" r="5.55"/><circle cx="90.8" cy="377.9" r="5.55"/><circle cx="119.0" cy="377.9" r="5.55"/><circle cx="147.2" cy="377.9" r="5.55"/><circle cx="175.3" cy="377.9" r="5.55"/><circle cx="203.5" cy="377.9" r="5.55"/><circle cx="231.7" cy="377.9" r="5.55"/><circle cx="259.9" cy="377.9" r="5.55"/><circle cx="288.1" cy="377.9" r="5.55"/><circle cx="316.2" cy="377.9" r="5.55"/><circle cx="344.4" cy="377.9" r="5.55"/><circle cx="372.6" cy="377.9" r="5.55"/><circle cx="400.8" cy="377.9" r="5.55"/><circle cx="428.9" cy="377.9" r="5.55"/><circle cx="457.1" cy="377.9" r="5.55"/><circle cx="485.3" cy="377.9" r="5.55"/><circle cx="513.5" cy="377.9" r="5.55"/><circle cx="541.7" cy="377.9" r="5.55"/><circle cx="569.9" cy="377.9" r="5.55"/><circle cx="598.0" cy="377.9" r="5.55"/><circle cx="626.2" cy="377.9" r="5.55"/><circle cx="654.4" cy="377.9" r="5.55"/><circle cx="682.6" cy="377.9" r="5.55"/><circle cx="710.8" cy="377.9" r="5.55"/>
<circle cx="-7.8" cy="392.0" r="5.45"/><circle cx="20.3" cy="392.0" r="5.45"/><circle cx="48.5" cy="392.0" r="5.45"/><circle cx="76.7" cy="392.0" r="5.45"/><circle cx="104.9" cy="392.0" r="5.45"/><circle cx="133.1" cy="392.0" r="5.45"/><circle cx="161.2" cy="392.0" r="5.45"/><circle cx="189.4" cy="392.0" r="5.45"/><circle cx="217.6" cy="392.0" r="5.45"/><circle cx="245.8" cy="392.0" r="5.45"/><circle cx="274.0" cy="392.0" r="5.45"/><circle cx="302.1" cy="392.0" r="5.45"/><circle cx="330.3" cy="392.0" r="5.45"/><circle cx="358.5" cy="392.0" r="5.45"/><circle cx="386.7" cy="392.0" r="5.45"/><circle cx="414.9" cy="392.0" r="5.45"/><circle cx="443.0" cy="392.0" r="5.45"/><circle cx="471.2" cy="392.0" r="5.45"/><circle cx="499.4" cy="392.0" r="5.45"/><circle cx="527.6" cy="392.0" r="5.45"/><circle cx="555.8" cy="392.0" r="5.45"/><circle cx="583.9" cy="392.0" r="5.45"/><circle cx="612.1" cy="392.0" r="5.45"/><circle cx="640.3" cy="392.0" r="5.45"/><circle cx="668.5" cy="392.0" r="5.45"/><circle cx="696.7" cy="392.0" r="5.45"/><circle cx="724.8" cy="392.0" r="5.45"/>
<circle cx="6.2" cy="406.1" r="5.32"/><circle cx="34.4" cy="406.1" r="5.32"/><circle cx="62.6" cy="406.1" r="5.32"/><circle cx="90.8" cy="406.1" r="5.32"/><circle cx="119.0" cy="406.1" r="5.32"/><circle cx="147.2" cy="406.1" r="5.32"/><circle cx="175.3" cy="406.1" r="5.32"/><circle cx="203.5" cy="406.1" r="5.32"/><circle cx="231.7" cy="406.1" r="5.32"/><circle cx="259.9" cy="406.1" r="5.32"/><circle cx="288.1" cy="406.1" r="5.32"/><circle cx="316.2" cy="406.1" r="5.32"/><circle cx="344.4" cy="406.1" r="5.32"/><circle cx="372.6" cy="406.1" r="5.32"/><circle cx="400.8" cy="406.1" r="5.32"/><circle cx="428.9" cy="406.1" r="5.32"/><circle cx="457.1" cy="406.1" r="5.32"/><circle cx="485.3" cy="406.1" r="5.32"/><circle cx="513.5" cy="406.1" r="5.32"/><circle cx="541.7" cy="406.1" r="5.32"/><circle cx="569.9" cy="406.1" r="5.32"/><circle cx="598.0" cy="406.1" r="5.32"/><circle cx="626.2" cy="406.1" r="5.32"/><circle cx="654.4" cy="406.1" r="5.32"/><circle cx="682.6" cy="406.1" r="5.32"/><circle cx="710.8" cy="406.1" r="5.32"/>
<circle cx="-7.8" cy="420.2" r="5.17"/><circle cx="20.3" cy="420.2" r="5.17"/><circle cx="48.5" cy="420.2" r="5.17"/><circle cx="76.7" cy="420.2" r="5.17"/><circle cx="104.9" cy="420.2" r="5.17"/><circle cx="133.1" cy="420.2" r="5.17"/><circle cx="161.2" cy="420.2" r="5.17"/><circle cx="189.4" cy="420.2" r="5.17"/><circle cx="217.6" cy="420.2" r="5.17"/><circle cx="245.8" cy="420.2" r="5.17"/><circle cx="274.0" cy="420.2" r="5.17"/><circle cx="302.1" cy="420.2" r="5.17"/><circle cx="330.3" cy="420.2" r="5.17"/><circle cx="358.5" cy="420.2" r="5.17"/><circle cx="386.7" cy="420.2" r="5.17"/><circle cx="414.9" cy="420.2" r="5.17"/><circle cx="443.0" cy="420.2" r="5.17"/><circle cx="471.2" cy="420.2" r="5.17"/><circle cx="499.4" cy="420.2" r="5.17"/><circle cx="527.6" cy="420.2" r="5.17"/><circle cx="555.8" cy="420.2" r="5.17"/><circle cx="583.9" cy="420.2" r="5.17"/><circle cx="612.1" cy="420.2" r="5.17"/><circle cx="640.3" cy="420.2" r="5.17"/><circle cx="668.5" cy="420.2" r="5.17"/><circle cx="696.7" cy="420.2" r="5.17"/><circle cx="724.8" cy="420.2" r="5.17"/>
<circle cx="6.2" cy="434.3" r="5.05"/><circle cx="34.4" cy="434.3" r="5.05"/><circle cx="62.6" cy="434.3" r="5.05"/><circle cx="90.8" cy="434.3" r="5.05"/><circle cx="119.0" cy="434.3" r="5.05"/><circle cx="147.2" cy="434.3" r="5.05"/><circle cx="175.3" cy="434.3" r="5.05"/><circle cx="203.5" cy="434.3" r="5.05"/><circle cx="231.7" cy="434.3" r="5.05"/><circle cx="259.9" cy="434.3" r="5.05"/><circle cx="288.1" cy="434.3" r="5.05"/><circle cx="316.2" cy="434.3" r="5.05"/><circle cx="344.4" cy="434.3" r="5.05"/><circle cx="372.6" cy="434.3" r="5.05"/><circle cx="400.8" cy="434.3" r="5.05"/><circle cx="428.9" cy="434.3" r="5.05"/><circle cx="457.1" cy="434.3" r="5.05"/><circle cx="485.3" cy="434.3" r="5.05"/><circle cx="513.5" cy="434.3" r="5.05"/><circle cx="541.7" cy="434.3" r="5.05"/><circle cx="569.9" cy="434.3" r="5.05"/><circle cx="598.0" cy="434.3" r="5.05"/><circle cx="626.2" cy="434.3" r="5.05"/><circle cx="654.4" cy="434.3" r="5.05"/><circle cx="682.6" cy="434.3" r="5.05"/><circle cx="710.8" cy="434.3" r="5.05"/>
<circle cx="-7.8" cy="448.4" r="4.95"/><circle cx="20.3" cy="448.4" r="4.95"/><circle cx="48.5" cy="448.4" r="4.95"/><circle cx="76.7" cy="448.4" r="4.95"/><circle cx="104.9" cy="448.4" r="4.95"/><circle cx="133.1" cy="448.4" r="4.95"/><circle cx="161.2" cy="448.4" r="4.95"/><circle cx="189.4" cy="448.4" r="4.95"/><circle cx="217.6" cy="448.4" r="4.95"/><circle cx="245.8" cy="448.4" r="4.95"/><circle cx="274.0" cy="448.4" r="4.95"/><circle cx="302.1" cy="448.4" r="4.95"/><circle cx="330.3" cy="448.4" r="4.95"/><circle cx="358.5" cy="448.4" r="4.95"/><circle cx="386.7" cy="448.4" r="4.95"/><circle cx="414.9" cy="448.4" r="4.95"/><circle cx="443.0" cy="448.4" r="4.95"/><circle cx="471.2" cy="448.4" r="4.95"/><circle cx="499.4" cy="448.4" r="4.95"/><circle cx="527.6" cy="448.4" r="4.95"/><circle cx="555.8" cy="448.4" r="4.95"/><circle cx="583.9" cy="448.4" r="4.95"/><circle cx="612.1" cy="448.4" r="4.95"/><circle cx="640.3" cy="448.4" r="4.95"/><circle cx="668.5" cy="448.4" r="4.95"/><circle cx="696.7" cy="448.4" r="4.95"/><circle cx="724.8" cy="448.4" r="4.95"/>
<circle cx="6.2" cy="462.5" r="4.84"/><circle cx="34.4" cy="462.5" r="4.84"/><circle cx="62.6" cy="462.5" r="4.84"/><circle cx="90.8" cy="462.5" r="4.84"/><circle cx="119.0" cy="462.5" r="4.84"/><circle cx="147.2" cy="462.5" r="4.84"/><circle cx="175.3" cy="462.5" r="4.84"/><circle cx="203.5" cy="462.5" r="4.84"/><circle cx="231.7" cy="462.5" r="4.84"/><circle cx="259.9" cy="462.5" r="4.84"/><circle cx="288.1" cy="462.5" r="4.84"/><circle cx="316.2" cy="462.5" r="4.84"/><circle cx="344.4" cy="462.5" r="4.84"/><circle cx="372.6" cy="462.5" r="4.84"/><circle cx="400.8" cy="462.5" r="4.84"/><circle cx="428.9" cy="462.5" r="4.84"/><circle cx="457.1" cy="462.5" r="4.84"/><circle cx="485.3" cy="462.5" r="4.84"/><circle cx="513.5" cy="462.5" r="4.84"/><circle cx="541.7" cy="462.5" r="4.84"/><circle cx="569.9" cy="462.5" r="4.84"/><circle cx="598.0" cy="462.5" r="4.84"/><circle cx="626.2" cy="462.5" r="4.84"/><circle cx="654.4" cy="462.5" r="4.84"/><circle cx="682.6" cy="462.5" r="4.84"/><circle cx="710.8" cy="462.5" r="4.84"/>
<circle cx="-7.8" cy="476.6" r="4.69"/><circle cx="20.3" cy="476.6" r="4.69"/><circle cx="48.5" cy="476.6" r="4.69"/><circle cx="76.7" cy="476.6" r="4.69"/><circle cx="104.9" cy="476.6" r="4.69"/><circle cx="133.1" cy="476.6" r="4.69"/><circle cx="161.2" cy="476.6" r="4.69"/><circle cx="189.4" cy="476.6" r="4.69"/><circle cx="217.6" cy="476.6" r="4.69"/><circle cx="245.8" cy="476.6" r="4.69"/><circle cx="274.0" cy="476.6" r="4.69"/><circle cx="302.1" cy="476.6" r="4.69"/><circle cx="330.3" cy="476.6" r="4.69"/><circle cx="358.5" cy="476.6" r="4.69"/><circle cx="386.7" cy="476.6" r="4.69"/><circle cx="414.9" cy="476.6" r="4.69"/><circle cx="443.0" cy="476.6" r="4.69"/><circle cx="471.2" cy="476.6" r="4.69"/><circle cx="499.4" cy="476.6" r="4.69"/><circle cx="527.6" cy="476.6" r="4.69"/><circle cx="555.8" cy="476.6" r="4.69"/><circle cx="583.9" cy="476.6" r="4.69"/><circle cx="612.1" cy="476.6" r="4.69"/><circle cx="640.3" cy="476.6" r="4.69"/><circle cx="668.5" cy="476.6" r="4.69"/><circle cx="696.7" cy="476.6" r="4.69"/><circle cx="724.8" cy="476.6" r="4.69"/>
<circle cx="6.2" cy="490.7" r="4.54"/><circle cx="34.4" cy="490.7" r="4.54"/><circle cx="62.6" cy="490.7" r="4.54"/><circle cx="90.8" cy="490.7" r="4.54"/><circle cx="119.0" cy="490.7" r="4.54"/><circle cx="147.2" cy="490.7" r="4.54"/><circle cx="175.3" cy="490.7" r="4.54"/><circle cx="203.5" cy="490.7" r="4.54"/><circle cx="231.7" cy="490.7" r="4.54"/><circle cx="259.9" cy="490.7" r="4.54"/><circle cx="288.1" cy="490.7" r="4.54"/><circle cx="316.2" cy="490.7" r="4.54"/><circle cx="344.4" cy="490.7" r="4.54"/><circle cx="372.6" cy="490.7" r="4.54"/><circle cx="400.8" cy="490.7" r="4.54"/><circle cx="428.9" cy="490.7" r="4.54"/><circle cx="457.1" cy="490.7" r="4.54"/><circle cx="485.3" cy="490.7" r="4.54"/><circle cx="513.5" cy="490.7" r="4.54"/><circle cx="541.7" cy="490.7" r="4.54"/><circle cx="569.9" cy="490.7" r="4.54"/><circle cx="598.0" cy="490.7" r="4.54"/><circle cx="626.2" cy="490.7" r="4.54"/><circle cx="654.4" cy="490.7" r="4.54"/><circle cx="682.6" cy="490.7" r="4.54"/><circle cx="710.8" cy="490.7" r="4.54"/>
<circle cx="-7.8" cy="504.8" r="4.30"/><circle cx="20.3" cy="504.8" r="4.30"/><circle cx="48.5" cy="504.8" r="4.30"/><circle cx="76.7" cy="504.8" r="4.30"/><circle cx="104.9" cy="504.8" r="4.30"/><circle cx="133.1" cy="504.8" r="4.30"/><circle cx="161.2" cy="504.8" r="4.30"/><circle cx="189.4" cy="504.8" r="4.30"/><circle cx="217.6" cy="504.8" r="4.30"/><circle cx="245.8" cy="504.8" r="4.30"/><circle cx="274.0" cy="504.8" r="4.30"/><circle cx="302.1" cy="504.8" r="4.30"/><circle cx="330.3" cy="504.8" r="4.30"/><circle cx="358.5" cy="504.8" r="4.30"/><circle cx="386.7" cy="504.8" r="4.30"/><circle cx="414.9" cy="504.8" r="4.30"/><circle cx="443.0" cy="504.8" r="4.30"/><circle cx="471.2" cy="504.8" r="4.30"/><circle cx="499.4" cy="504.8" r="4.30"/><circle cx="527.6" cy="504.8" r="4.30"/><circle cx="555.8" cy="504.8" r="4.30"/><circle cx="583.9" cy="504.8" r="4.30"/><circle cx="612.1" cy="504.8" r="4.30"/><circle cx="640.3" cy="504.8" r="4.30"/><circle cx="668.5" cy="504.8" r="4.30"/><circle cx="696.7" cy="504.8" r="4.30"/><circle cx="724.8" cy="504.8" r="4.30"/>
<circle cx="6.2" cy="519.0" r="4.10"/><circle cx="34.4" cy="519.0" r="4.10"/><circle cx="62.6" cy="519.0" r="4.10"/><circle cx="90.8" cy="519.0" r="4.10"/><circle cx="119.0" cy="519.0" r="4.10"/><circle cx="147.2" cy="519.0" r="4.10"/><circle cx="175.3" cy="519.0" r="4.10"/><circle cx="203.5" cy="519.0" r="4.10"/><circle cx="231.7" cy="519.0" r="4.10"/><circle cx="259.9" cy="519.0" r="4.10"/><circle cx="288.1" cy="519.0" r="4.10"/><circle cx="316.2" cy="519.0" r="4.10"/><circle cx="344.4" cy="519.0" r="4.10"/><circle cx="372.6" cy="519.0" r="4.10"/><circle cx="400.8" cy="519.0" r="4.10"/><circle cx="428.9" cy="519.0" r="4.10"/><circle cx="457.1" cy="519.0" r="4.10"/><circle cx="485.3" cy="519.0" r="4.10"/><circle cx="513.5" cy="519.0" r="4.10"/><circle cx="541.7" cy="519.0" r="4.10"/><circle cx="569.9" cy="519.0" r="4.10"/><circle cx="598.0" cy="519.0" r="4.10"/><circle cx="626.2" cy="519.0" r="4.10"/><circle cx="654.4" cy="519.0" r="4.10"/><circle cx="682.6" cy="519.0" r="4.10"/><circle cx="710.8" cy="519.0" r="4.10"/>
<circle cx="-7.8" cy="533.1" r="3.97"/><circle cx="20.3" cy="533.1" r="3.97"/><circle cx="48.5" cy="533.1" r="3.97"/><circle cx="76.7" cy="533.1" r="3.97"/><circle cx="104.9" cy="533.1" r="3.97"/><circle cx="133.1" cy="533.1" r="3.97"/><circle cx="161.2" cy="533.1" r="3.97"/><circle cx="189.4" cy="533.1" r="3.97"/><circle cx="217.6" cy="533.1" r="3.97"/><circle cx="245.8" cy="533.1" r="3.97"/><circle cx="274.0" cy="533.1" r="3.97"/><circle cx="302.1" cy="533.1" r="3.97"/><circle cx="330.3" cy="533.1" r="3.97"/><circle cx="358.5" cy="533.1" r="3.97"/><circle cx="386.7" cy="533.1" r="3.97"/><circle cx="414.9" cy="533.1" r="3.97"/><circle cx="443.0" cy="533.1" r="3.97"/><circle cx="471.2" cy="533.1" r="3.97"/><circle cx="499.4" cy="533.1" r="3.97"/><circle cx="527.6" cy="533.1" r="3.97"/><circle cx="555.8" cy="533.1" r="3.97"/><circle cx="583.9" cy="533.1" r="3.97"/><circle cx="612.1" cy="533.1" r="3.97"/><circle cx="640.3" cy="533.1" r="3.97"/><circle cx="668.5" cy="533.1" r="3.97"/><circle cx="696.7" cy="533.1" r="3.97"/><circle cx="724.8" cy="533.1" r="3.97"/>
<circle cx="6.2" cy="547.2" r="3.85"/><circle cx="34.4" cy="547.2" r="3.85"/><circle cx="62.6" cy="547.2" r="3.85"/><circle cx="90.8" cy="547.2" r="3.85"/><circle cx="119.0" cy="547.2" r="3.85"/><circle cx="147.2" cy="547.2" r="3.85"/><circle cx="175.3" cy="547.2" r="3.85"/><circle cx="203.5" cy="547.2" r="3.85"/><circle cx="231.7" cy="547.2" r="3.85"/><circle cx="259.9" cy="547.2" r="3.85"/><circle cx="288.1" cy="547.2" r="3.85"/><circle cx="316.2" cy="547.2" r="3.85"/><circle cx="344.4" cy="547.2" r="3.85"/><circle cx="372.6" cy="547.2" r="3.85"/><circle cx="400.8" cy="547.2" r="3.85"/><circle cx="428.9" cy="547.2" r="3.85"/><circle cx="457.1" cy="547.2" r="3.85"/><circle cx="485.3" cy="547.2" r="3.85"/><circle cx="513.5" cy="547.2" r="3.85"/><circle cx="541.7" cy="547.2" r="3.85"/><circle cx="569.9" cy="547.2" r="3.85"/><circle cx="598.0" cy="547.2" r="3.85"/><circle cx="626.2" cy="547.2" r="3.85"/><circle cx="654.4" cy="547.2" r="3.85"/><circle cx="682.6" cy="547.2" r="3.85"/><circle cx="710.8" cy="547.2" r="3.85"/>
<circle cx="-7.8" cy="561.3" r="3.62"/><circle cx="20.3" cy="561.3" r="3.62"/><circle cx="48.5" cy="561.3" r="3.62"/><circle cx="76.7" cy="561.3" r="3.62"/><circle cx="104.9" cy="561.3" r="3.62"/><circle cx="133.1" cy="561.3" r="3.62"/><circle cx="161.2" cy="561.3" r="3.62"/><circle cx="189.4" cy="561.3" r="3.62"/><circle cx="217.6" cy="561.3" r="3.62"/><circle cx="245.8" cy="561.3" r="3.62"/><circle cx="274.0" cy="561.3" r="3.62"/><circle cx="302.1" cy="561.3" r="3.62"/><circle cx="330.3" cy="561.3" r="3.62"/><circle cx="358.5" cy="561.3" r="3.62"/><circle cx="386.7" cy="561.3" r="3.62"/><circle cx="414.9" cy="561.3" r="3.62"/><circle cx="443.0" cy="561.3" r="3.62"/><circle cx="471.2" cy="561.3" r="3.62"/><circle cx="499.4" cy="561.3" r="3.62"/><circle cx="527.6" cy="561.3" r="3.62"/><circle cx="555.8" cy="561.3" r="3.62"/><circle cx="583.9" cy="561.3" r="3.62"/><circle cx="612.1" cy="561.3" r="3.62"/><circle cx="640.3" cy="561.3" r="3.62"/><circle cx="668.5" cy="561.3" r="3.62"/><circle cx="696.7" cy="561.3" r="3.62"/><circle cx="724.8" cy="561.3" r="3.62"/>
<circle cx="6.2" cy="575.4" r="3.47"/><circle cx="34.4" cy="575.4" r="3.47"/><circle cx="62.6" cy="575.4" r="3.47"/><circle cx="90.8" cy="575.4" r="3.47"/><circle cx="119.0" cy="575.4" r="3.47"/><circle cx="147.2" cy="575.4" r="3.47"/><circle cx="175.3" cy="575.4" r="3.47"/><circle cx="203.5" cy="575.4" r="3.47"/><circle cx="231.7" cy="575.4" r="3.47"/><circle cx="259.9" cy="575.4" r="3.47"/><circle cx="288.1" cy="575.4" r="3.47"/><circle cx="316.2" cy="575.4" r="3.47"/><circle cx="344.4" cy="575.4" r="3.47"/><circle cx="372.6" cy="575.4" r="3.47"/><circle cx="400.8" cy="575.4" r="3.47"/><circle cx="428.9" cy="575.4" r="3.47"/><circle cx="457.1" cy="575.4" r="3.47"/><circle cx="485.3" cy="575.4" r="3.47"/><circle cx="513.5" cy="575.4" r="3.47"/><circle cx="541.7" cy="575.4" r="3.47"/><circle cx="569.9" cy="575.4" r="3.47"/><circle cx="598.0" cy="575.4" r="3.47"/><circle cx="626.2" cy="575.4" r="3.47"/><circle cx="654.4" cy="575.4" r="3.47"/><circle cx="682.6" cy="575.4" r="3.47"/><circle cx="710.8" cy="575.4" r="3.47"/>
<circle cx="-7.8" cy="589.5" r="3.36"/><circle cx="20.3" cy="589.5" r="3.36"/><circle cx="48.5" cy="589.5" r="3.36"/><circle cx="76.7" cy="589.5" r="3.36"/><circle cx="104.9" cy="589.5" r="3.36"/><circle cx="133.1" cy="589.5" r="3.36"/><circle cx="161.2" cy="589.5" r="3.36"/><circle cx="189.4" cy="589.5" r="3.36"/><circle cx="217.6" cy="589.5" r="3.36"/><circle cx="245.8" cy="589.5" r="3.36"/><circle cx="274.0" cy="589.5" r="3.36"/><circle cx="302.1" cy="589.5" r="3.36"/><circle cx="330.3" cy="589.5" r="3.36"/><circle cx="358.5" cy="589.5" r="3.36"/><circle cx="386.7" cy="589.5" r="3.36"/><circle cx="414.9" cy="589.5" r="3.36"/><circle cx="443.0" cy="589.5" r="3.36"/><circle cx="471.2" cy="589.5" r="3.36"/><circle cx="499.4" cy="589.5" r="3.36"/><circle cx="527.6" cy="589.5" r="3.36"/><circle cx="555.8" cy="589.5" r="3.36"/><circle cx="583.9" cy="589.5" r="3.36"/><circle cx="612.1" cy="589.5" r="3.36"/><circle cx="640.3" cy="589.5" r="3.36"/><circle cx="668.5" cy="589.5" r="3.36"/><circle cx="696.7" cy="589.5" r="3.36"/><circle cx="724.8" cy="589.5" r="3.36"/>
<circle cx="6.2" cy="603.6" r="3.24"/><circle cx="34.4" cy="603.6" r="3.24"/><circle cx="62.6" cy="603.6" r="3.24"/><circle cx="90.8" cy="603.6" r="3.24"/><circle cx="119.0" cy="603.6" r="3.24"/><circle cx="147.2" cy="603.6" r="3.24"/><circle cx="175.3" cy="603.6" r="3.24"/><circle cx="203.5" cy="603.6" r="3.24"/><circle cx="231.7" cy="603.6" r="3.24"/><circle cx="259.9" cy="603.6" r="3.24"/><circle cx="288.1" cy="603.6" r="3.24"/><circle cx="316.2" cy="603.6" r="3.24"/><circle cx="344.4" cy="603.6" r="3.24"/><circle cx="372.6" cy="603.6" r="3.24"/><circle cx="400.8" cy="603.6" r="3.24"/><circle cx="428.9" cy="603.6" r="3.24"/><circle cx="457.1" cy="603.6" r="3.24"/><circle cx="485.3" cy="603.6" r="3.24"/><circle cx="513.5" cy="603.6" r="3.24"/><circle cx="541.7" cy="603.6" r="3.24"/><circle cx="569.9" cy="603.6" r="3.24"/><circle cx="598.0" cy="603.6" r="3.24"/><circle cx="626.2" cy="603.6" r="3.24"/><circle cx="654.4" cy="603.6" r="3.24"/><circle cx="682.6" cy="603.6" r="3.24"/><circle cx="710.8" cy="603.6" r="3.24"/>
<circle cx="-7.8" cy="617.7" r="3.12"/><circle cx="20.3" cy="617.7" r="3.12"/><circle cx="48.5" cy="617.7" r="3.12"/><circle cx="76.7" cy="617.7" r="3.12"/><circle cx="104.9" cy="617.7" r="3.12"/><circle cx="133.1" cy="617.7" r="3.12"/><circle cx="161.2" cy="617.7" r="3.12"/><circle cx="189.4" cy="617.7" r="3.12"/><circle cx="217.6" cy="617.7" r="3.12"/><circle cx="245.8" cy="617.7" r="3.12"/><circle cx="274.0" cy="617.7" r="3.12"/><circle cx="302.1" cy="617.7" r="3.12"/><circle cx="330.3" cy="617.7" r="3.12"/><circle cx="358.5" cy="617.7" r="3.12"/><circle cx="386.7" cy="617.7" r="3.12"/><circle cx="414.9" cy="617.7" r="3.12"/><circle cx="443.0" cy="617.7" r="3.12"/><circle cx="471.2" cy="617.7" r="3.12"/><circle cx="499.4" cy="617.7" r="3.12"/><circle cx="527.6" cy="617.7" r="3.12"/><circle cx="555.8" cy="617.7" r="3.12"/><circle cx="583.9" cy="617.7" r="3.12"/><circle cx="612.1" cy="617.7" r="3.12"/><circle cx="640.3" cy="617.7" r="3.12"/><circle cx="668.5" cy="617.7" r="3.12"/><circle cx="696.7" cy="617.7" r="3.12"/><circle cx="724.8" cy="617.7" r="3.12"/>
<circle cx="6.2" cy="631.8" r="2.99"/><circle cx="34.4" cy="631.8" r="2.99"/><circle cx="62.6" cy="631.8" r="2.99"/><circle cx="90.8" cy="631.8" r="2.99"/><circle cx="119.0" cy="631.8" r="2.99"/><circle cx="147.2" cy="631.8" r="2.99"/><circle cx="175.3" cy="631.8" r="2.99"/><circle cx="203.5" cy="631.8" r="2.99"/><circle cx="231.7" cy="631.8" r="2.99"/><circle cx="259.9" cy="631.8" r="2.99"/><circle cx="288.1" cy="631.8" r="2.99"/><circle cx="316.2" cy="631.8" r="2.99"/><circle cx="344.4" cy="631.8" r="2.99"/><circle cx="372.6" cy="631.8" r="2.99"/><circle cx="400.8" cy="631.8" r="2.99"/><circle cx="428.9" cy="631.8" r="2.99"/><circle cx="457.1" cy="631.8" r="2.99"/><circle cx="485.3" cy="631.8" r="2.99"/><circle cx="513.5" cy="631.8" r="2.99"/><circle cx="541.7" cy="631.8" r="2.99"/><circle cx="569.9" cy="631.8" r="2.99"/><circle cx="598.0" cy="631.8" r="2.99"/><circle cx="626.2" cy="631.8" r="2.99"/><circle cx="654.4" cy="631.8" r="2.99"/><circle cx="682.6" cy="631.8" r="2.99"/><circle cx="710.8" cy="631.8" r="2.99"/>
<circle cx="-7.8" cy="645.9" r="2.82"/><circle cx="20.3" cy="645.9" r="2.82"/><circle cx="48.5" cy="645.9" r="2.82"/><circle cx="76.7" cy="645.9" r="2.82"/><circle cx="104.9" cy="645.9" r="2.82"/><circle cx="133.1" cy="645.9" r="2.82"/><circle cx="161.2" cy="645.9" r="2.82"/><circle cx="189.4" cy="645.9" r="2.82"/><circle cx="217.6" cy="645.9" r="2.82"/><circle cx="245.8" cy="645.9" r="2.82"/><circle cx="274.0" cy="645.9" r="2.82"/><circle cx="302.1" cy="645.9" r="2.82"/><circle cx="330.3" cy="645.9" r="2.82"/><circle cx="358.5" cy="645.9" r="2.82"/><circle cx="386.7" cy="645.9" r="2.82"/><circle cx="414.9" cy="645.9" r="2.82"/><circle cx="443.0" cy="645.9" r="2.82"/><circle cx="471.2" cy="645.9" r="2.82"/><circle cx="499.4" cy="645.9" r="2.82"/><circle cx="527.6" cy="645.9" r="2.82"/><circle cx="555.8" cy="645.9" r="2.82"/><circle cx="583.9" cy="645.9" r="2.82"/><circle cx="612.1" cy="645.9" r="2.82"/><circle cx="640.3" cy="645.9" r="2.82"/><circle cx="668.5" cy="645.9" r="2.82"/><circle cx="696.7" cy="645.9" r="2.82"/><circle cx="724.8" cy="645.9" r="2.82"/>
<circle cx="6.2" cy="660.0" r="2.65"/><circle cx="34.4" cy="660.0" r="2.65"/><circle cx="62.6" cy="660.0" r="2.65"/><circle cx="90.8" cy="660.0" r="2.65"/><circle cx="119.0" cy="660.0" r="2.65"/><circle cx="147.2" cy="660.0" r="2.65"/><circle cx="175.3" cy="660.0" r="2.65"/><circle cx="203.5" cy="660.0" r="2.65"/><circle cx="231.7" cy="660.0" r="2.65"/><circle cx="259.9" cy="660.0" r="2.65"/><circle cx="288.1" cy="660.0" r="2.65"/><circle cx="316.2" cy="660.0" r="2.65"/><circle cx="344.4" cy="660.0" r="2.65"/><circle cx="372.6" cy="660.0" r="2.65"/><circle cx="400.8" cy="660.0" r="2.65"/><circle cx="428.9" cy="660.0" r="2.65"/><circle cx="457.1" cy="660.0" r="2.65"/><circle cx="485.3" cy="660.0" r="2.65"/><circle cx="513.5" cy="660.0" r="2.65"/><circle cx="541.7" cy="660.0" r="2.65"/><circle cx="569.9" cy="660.0" r="2.65"/><circle cx="598.0" cy="660.0" r="2.65"/><circle cx="626.2" cy="660.0" r="2.65"/><circle cx="654.4" cy="660.0" r="2.65"/><circle cx="682.6" cy="660.0" r="2.65"/><circle cx="710.8" cy="660.0" r="2.65"/>
<circle cx="-7.8" cy="674.1" r="2.40"/><circle cx="20.3" cy="674.1" r="2.40"/><circle cx="48.5" cy="674.1" r="2.40"/><circle cx="76.7" cy="674.1" r="2.40"/><circle cx="104.9" cy="674.1" r="2.40"/><circle cx="133.1" cy="674.1" r="2.40"/><circle cx="161.2" cy="674.1" r="2.40"/><circle cx="189.4" cy="674.1" r="2.40"/><circle cx="217.6" cy="674.1" r="2.40"/><circle cx="245.8" cy="674.1" r="2.40"/><circle cx="274.0" cy="674.1" r="2.40"/><circle cx="302.1" cy="674.1" r="2.40"/><circle cx="330.3" cy="674.1" r="2.40"/><circle cx="358.5" cy="674.1" r="2.40"/><circle cx="386.7" cy="674.1" r="2.40"/><circle cx="414.9" cy="674.1" r="2.40"/><circle cx="443.0" cy="674.1" r="2.40"/><circle cx="471.2" cy="674.1" r="2.40"/><circle cx="499.4" cy="674.1" r="2.40"/><circle cx="527.6" cy="674.1" r="2.40"/><circle cx="555.8" cy="674.1" r="2.40"/><circle cx="583.9" cy="674.1" r="2.40"/><circle cx="612.1" cy="674.1" r="2.40"/><circle cx="640.3" cy="674.1" r="2.40"/><circle cx="668.5" cy="674.1" r="2.40"/><circle cx="696.7" cy="674.1" r="2.40"/><circle cx="724.8" cy="674.1" r="2.40"/>
<circle cx="6.2" cy="688.2" r="2.17"/><circle cx="34.4" cy="688.2" r="2.17"/><circle cx="62.6" cy="688.2" r="2.17"/><circle cx="90.8" cy="688.2" r="2.17"/><circle cx="119.0" cy="688.2" r="2.17"/><circle cx="147.2" cy="688.2" r="2.17"/><circle cx="175.3" cy="688.2" r="2.17"/><circle cx="203.5" cy="688.2" r="2.17"/><circle cx="231.7" cy="688.2" r="2.17"/><circle cx="259.9" cy="688.2" r="2.17"/><circle cx="288.1" cy="688.2" r="2.17"/><circle cx="316.2" cy="688.2" r="2.17"/><circle cx="344.4" cy="688.2" r="2.17"/><circle cx="372.6" cy="688.2" r="2.17"/><circle cx="400.8" cy="688.2" r="2.17"/><circle cx="428.9" cy="688.2" r="2.17"/><circle cx="457.1" cy="688.2" r="2.17"/><circle cx="485.3" cy="688.2" r="2.17"/><circle cx="513.5" cy="688.2" r="2.17"/><circle cx="541.7" cy="688.2" r="2.17"/><circle cx="569.9" cy="688.2" r="2.17"/><circle cx="598.0" cy="688.2" r="2.17"/><circle cx="626.2" cy="688.2" r="2.17"/><circle cx="654.4" cy="688.2" r="2.17"/><circle cx="682.6" cy="688.2" r="2.17"/><circle cx="710.8" cy="688.2" r="2.17"/>
<circle cx="-7.8" cy="702.3" r="1.99"/><circle cx="20.3" cy="702.3" r="1.99"/><circle cx="48.5" cy="702.3" r="1.99"/><circle cx="76.7" cy="702.3" r="1.99"/><circle cx="104.9" cy="702.3" r="1.99"/><circle cx="133.1" cy="702.3" r="1.99"/><circle cx="161.2" cy="702.3" r="1.99"/><circle cx="189.4" cy="702.3" r="1.99"/><circle cx="217.6" cy="702.3" r="1.99"/><circle cx="245.8" cy="702.3" r="1.99"/><circle cx="274.0" cy="702.3" r="1.99"/><circle cx="302.1" cy="702.3" r="1.99"/><circle cx="330.3" cy="702.3" r="1.99"/><circle cx="358.5" cy="702.3" r="1.99"/><circle cx="386.7" cy="702.3" r="1.99"/><circle cx="414.9" cy="702.3" r="1.99"/><circle cx="443.0" cy="702.3" r="1.99"/><circle cx="471.2" cy="702.3" r="1.99"/><circle cx="499.4" cy="702.3" r="1.99"/><circle cx="527.6" cy="702.3" r="1.99"/><circle cx="555.8" cy="702.3" r="1.99"/><circle cx="583.9" cy="702.3" r="1.99"/><circle cx="612.1" cy="702.3" r="1.99"/><circle cx="640.3" cy="702.3" r="1.99"/><circle cx="668.5" cy="702.3" r="1.99"/><circle cx="696.7" cy="702.3" r="1.99"/><circle cx="724.8" cy="702.3" r="1.99"/>
<circle cx="6.2" cy="716.4" r="1.74"/><circle cx="34.4" cy="716.4" r="1.74"/><circle cx="62.6" cy="716.4" r="1.74"/><circle cx="90.8" cy="716.4" r="1.74"/><circle cx="119.0" cy="716.4" r="1.74"/><circle cx="147.2" cy="716.4" r="1.74"/><circle cx="175.3" cy="716.4" r="1.74"/><circle cx="203.5" cy="716.4" r="1.74"/><circle cx="231.7" cy="716.4" r="1.74"/><circle cx="259.9" cy="716.4" r="1.74"/><circle cx="288.1" cy="716.4" r="1.74"/><circle cx="316.2" cy="716.4" r="1.74"/><circle cx="344.4" cy="716.4" r="1.74"/><circle cx="372.6" cy="716.4" r="1.74"/><circle cx="400.8" cy="716.4" r="1.74"/><circle cx="428.9" cy="716.4" r="1.74"/><circle cx="457.1" cy="716.4" r="1.74"/><circle cx="485.3" cy="716.4" r="1.74"/><circle cx="513.5" cy="716.4" r="1.74"/><circle cx="541.7" cy="716.4" r="1.74"/><circle cx="569.9" cy="716.4" r="1.74"/><circle cx="598.0" cy="716.4" r="1.74"/><circle cx="626.2" cy="716.4" r="1.74"/><circle cx="654.4" cy="716.4" r="1.74"/><circle cx="682.6" cy="716.4" r="1.74"/><circle cx="710.8" cy="716.4" r="1.74"/>
<circle cx="-7.8" cy="730.6" r="1.49"/><circle cx="20.3" cy="730.6" r="1.49"/><circle cx="48.5" cy="730.6" r="1.49"/><circle cx="76.7" cy="730.6" r="1.49"/><circle cx="104.9" cy="730.6" r="1.49"/><circle cx="133.1" cy="730.6" r="1.49"/><circle cx="161.2" cy="730.6" r="1.49"/><circle cx="189.4" cy="730.6" r="1.49"/><circle cx="217.6" cy="730.6" r="1.49"/><circle cx="245.8" cy="730.6" r="1.49"/><circle cx="274.0" cy="730.6" r="1.49"/><circle cx="302.1" cy="730.6" r="1.49"/><circle cx="330.3" cy="730.6" r="1.49"/><circle cx="358.5" cy="730.6" r="1.49"/><circle cx="386.7" cy="730.6" r="1.49"/><circle cx="414.9" cy="730.6" r="1.49"/><circle cx="443.0" cy="730.6" r="1.49"/><circle cx="471.2" cy="730.6" r="1.49"/><circle cx="499.4" cy="730.6" r="1.49"/><circle cx="527.6" cy="730.6" r="1.49"/><circle cx="555.8" cy="730.6" r="1.49"/><circle cx="583.9" cy="730.6" r="1.49"/><circle cx="612.1" cy="730.6" r="1.49"/><circle cx="640.3" cy="730.6" r="1.49"/><circle cx="668.5" cy="730.6" r="1.49"/><circle cx="696.7" cy="730.6" r="1.49"/><circle cx="724.8" cy="730.6" r="1.49"/>
<circle cx="6.2" cy="744.7" r="1.19"/><circle cx="34.4" cy="744.7" r="1.19"/><circle cx="62.6" cy="744.7" r="1.19"/><circle cx="90.8" cy="744.7" r="1.19"/><circle cx="119.0" cy="744.7" r="1.19"/><circle cx="147.2" cy="744.7" r="1.19"/><circle cx="175.3" cy="744.7" r="1.19"/><circle cx="203.5" cy="744.7" r="1.19"/><circle cx="231.7" cy="744.7" r="1.19"/><circle cx="259.9" cy="744.7" r="1.19"/><circle cx="288.1" cy="744.7" r="1.19"/><circle cx="316.2" cy="744.7" r="1.19"/><circle cx="344.4" cy="744.7" r="1.19"/><circle cx="372.6" cy="744.7" r="1.19"/><circle cx="400.8" cy="744.7" r="1.19"/><circle cx="428.9" cy="744.7" r="1.19"/><circle cx="457.1" cy="744.7" r="1.19"/><circle cx="485.3" cy="744.7" r="1.19"/><circle cx="513.5" cy="744.7" r="1.19"/><circle cx="541.7" cy="744.7" r="1.19"/><circle cx="569.9" cy="744.7" r="1.19"/><circle cx="598.0" cy="744.7" r="1.19"/><circle cx="626.2" cy="744.7" r="1.19"/><circle cx="654.4" cy="744.7" r="1.19"/><circle cx="682.6" cy="744.7" r="1.19"/><circle cx="710.8" cy="744.7" r="1.19"/>
<circle cx="-7.8" cy="758.8" r="0.88"/><circle cx="20.3" cy="758.8" r="0.88"/><circle cx="48.5" cy="758.8" r="0.88"/><circle cx="76.7" cy="758.8" r="0.88"/><circle cx="104.9" cy="758.8" r="0.88"/><circle cx="133.1" cy="758.8" r="0.88"/><circle cx="161.2" cy="758.8" r="0.88"/><circle cx="189.4" cy="758.8" r="0.88"/><circle cx="217.6" cy="758.8" r="0.88"/><circle cx="245.8" cy="758.8" r="0.88"/><circle cx="274.0" cy="758.8" r="0.88"/><circle cx="302.1" cy="758.8" r="0.88"/><circle cx="330.3" cy="758.8" r="0.88"/><circle cx="358.5" cy="758.8" r="0.88"/><circle cx="386.7" cy="758.8" r="0.88"/><circle cx="414.9" cy="758.8" r="0.88"/><circle cx="443.0" cy="758.8" r="0.88"/><circle cx="471.2" cy="758.8" r="0.88"/><circle cx="499.4" cy="758.8" r="0.88"/><circle cx="527.6" cy="758.8" r="0.88"/><circle cx="555.8" cy="758.8" r="0.88"/><circle cx="583.9" cy="758.8" r="0.88"/><circle cx="612.1" cy="758.8" r="0.88"/><circle cx="640.3" cy="758.8" r="0.88"/><circle cx="668.5" cy="758.8" r="0.88"/><circle cx="696.7" cy="758.8" r="0.88"/><circle cx="724.8" cy="758.8" r="0.88"/>
<circle cx="6.2" cy="772.9" r="0.57"/><circle cx="34.4" cy="772.9" r="0.57"/><circle cx="62.6" cy="772.9" r="0.57"/><circle cx="90.8" cy="772.9" r="0.57"/><circle cx="119.0" cy="772.9" r="0.57"/><circle cx="147.2" cy="772.9" r="0.57"/><circle cx="175.3" cy="772.9" r="0.57"/><circle cx="203.5" cy="772.9" r="0.57"/><circle cx="231.7" cy="772.9" r="0.57"/><circle cx="259.9" cy="772.9" r="0.57"/><circle cx="288.1" cy="772.9" r="0.57"/><circle cx="316.2" cy="772.9" r="0.57"/><circle cx="344.4" cy="772.9" r="0.57"/><circle cx="372.6" cy="772.9" r="0.57"/><circle cx="400.8" cy="772.9" r="0.57"/><circle cx="428.9" cy="772.9" r="0.57"/><circle cx="457.1" cy="772.9" r="0.57"/><circle cx="485.3" cy="772.9" r="0.57"/><circle cx="513.5" cy="772.9" r="0.57"/><circle cx="541.7" cy="772.9" r="0.57"/><circle cx="569.9" cy="772.9" r="0.57"/><circle cx="598.0" cy="772.9" r="0.57"/><circle cx="626.2" cy="772.9" r="0.57"/><circle cx="654.4" cy="772.9" r="0.57"/><circle cx="682.6" cy="772.9" r="0.57"/><circle cx="710.8" cy="772.9" r="0.57"/>
</g>
<path d="M65.1 134.5a67.0 67.0 0 1 0 134.0 0a67.0 67.0 0 1 0 -134.0 0zM34.1 134.5a98.0 98.0 0 1 0 196.0 0a98.0 98.0 0 1 0 -196.0 0zM-2.4 134.5a134.5 134.5 0 1 0 269.0 0a134.5 134.5 0 1 0 -269.0 0zM-22.9 134.5a155.0 155.0 0 1 0 310.0 0a155.0 155.0 0 1 0 -310.0 0zM-46.5 134.5a178.6 178.6 0 1 0 357.2 0a178.6 178.6 0 1 0 -357.2 0zM-53.7 134.5a185.8 185.8 0 1 0 371.6 0a185.8 185.8 0 1 0 -371.6 0zM-59.2 134.5a191.3 191.3 0 1 0 382.6 0a191.3 191.3 0 1 0 -382.6 0zM-74.6 134.5a206.7 206.7 0 1 0 413.4 0a206.7 206.7 0 1 0 -413.4 0zM-85.4 134.5a217.5 217.5 0 1 0 435.0 0a217.5 217.5 0 1 0 -435.0 0zM-90.2 134.5a222.3 222.3 0 1 0 444.6 0a222.3 222.3 0 1 0 -444.6 0zM-100.8 134.5a232.9 232.9 0 1 0 465.8 0a232.9 232.9 0 1 0 -465.8 0zM-126.9 134.5a259.0 259.0 0 1 0 518.0 0a259.0 259.0 0 1 0 -518.0 0z" fill="#fff" fill-opacity=".7" fill-rule="evenodd" stroke="#1c1c1c" stroke-width="1.0"/>
<path d="M600.0 126.3L600.0 102.4L619.5 102.4L619.5 126.3A127.4 127.4 0 0 1 633.3 128.1L639.4 105.0L658.3 110.1L652.1 133.1A127.4 127.4 0 0 1 664.9 138.4L676.8 117.7L693.7 127.5L681.8 148.2A127.4 127.4 0 0 1 692.7 156.6L709.6 139.7L723.4 153.5L706.5 170.4A127.4 127.4 0 0 1 714.9 181.3L735.6 169.4L745.4 186.3L724.7 198.2A127.4 127.4 0 0 1 730.0 211.0L753.0 204.8L758.1 223.7L735.0 229.8A127.4 127.4 0 0 1 736.8 243.6L760.7 243.6L760.7 263.1L736.8 263.1A127.4 127.4 0 0 1 735.0 276.8L758.1 282.9L753.0 301.8L730.0 295.6A127.4 127.4 0 0 1 724.7 308.4L745.4 320.3L735.6 337.2L714.9 325.3A127.4 127.4 0 0 1 706.5 336.2L723.4 353.1L709.6 366.9L692.7 350.0A127.4 127.4 0 0 1 681.8 358.4L693.7 379.1L676.8 388.9L664.9 368.2A127.4 127.4 0 0 1 652.1 373.5L658.3 396.5L639.4 401.6L633.3 378.5A127.4 127.4 0 0 1 619.5 380.3L619.5 404.2L600.0 404.2L600.0 380.3A127.4 127.4 0 0 1 586.3 378.5L580.2 401.6L561.3 396.5L567.5 373.5A127.4 127.4 0 0 1 554.7 368.2L542.8 388.9L525.9 379.1L537.8 358.4A127.4 127.4 0 0 1 526.9 350.0L510.0 366.9L496.2 353.1L513.1 336.2A127.4 127.4 0 0 1 504.7 325.3L484.0 337.2L474.2 320.3L494.9 308.4A127.4 127.4 0 0 1 489.6 295.6L466.6 301.8L461.5 282.9L484.6 276.8A127.4 127.4 0 0 1 482.8 263.1L458.9 263.1L458.9 243.6L482.8 243.6A127.4 127.4 0 0 1 484.6 229.8L461.5 223.7L466.6 204.8L489.6 211.0A127.4 127.4 0 0 1 494.9 198.2L474.2 186.3L484.0 169.4L504.7 181.3A127.4 127.4 0 0 1 513.1 170.4L496.2 153.5L510.0 139.7L526.9 156.6A127.4 127.4 0 0 1 537.8 148.2L525.9 127.5L542.8 117.7L554.7 138.4A127.4 127.4 0 0 1 567.5 133.1L561.3 110.1L580.2 105.0L586.3 128.1A127.4 127.4 0 0 1 600.0 126.3zM500.3 253.3a109.5 109.5 0 1 0 219.0 0a109.5 109.5 0 1 0 -219.0 0zM520.2 253.3a89.6 89.6 0 1 0 179.2 0a89.6 89.6 0 1 0 -179.2 0zM529.8 253.3a80.0 80.0 0 1 0 160.0 0a80.0 80.0 0 1 0 -160.0 0zM548.8 253.3a61.0 61.0 0 1 0 122.0 0a61.0 61.0 0 1 0 -122.0 0zM566.5 253.3a43.3 43.3 0 1 0 86.6 0a43.3 43.3 0 1 0 -86.6 0z" fill="#fff" fill-opacity=".7" fill-rule="evenodd" stroke="#1c1c1c" stroke-width="1.0"/>
<rect x="237" y="95" width="245.6" height="28.6" rx="5" fill="#000"/>
<rect x="237" y="719" width="246" height="30.4" rx="5" fill="#000"/>
<g fill="#fff" stroke="#141414" stroke-width="1.4">
<rect x="57.70" y="217.80" width="54.60" height="60.70" rx="4.6"/>
<rect x="119.40" y="217.80" width="221.30" height="60.70" rx="4.8"/>
<rect x="107.10" y="202.40" width="126.10" height="29.30" rx="5.2"/>
<rect x="57.70" y="322.70" width="54.60" height="60.70" rx="4.6"/>
<rect x="119.40" y="322.70" width="221.30" height="60.70" rx="4.8"/>
<rect x="107.10" y="307.30" width="126.10" height="29.30" rx="5.2"/>
<rect x="57.70" y="427.60" width="54.60" height="60.70" rx="4.6"/>
<rect x="119.40" y="427.60" width="221.30" height="60.70" rx="4.8"/>
<rect x="107.10" y="412.20" width="126.10" height="29.30" rx="5.2"/>
<rect x="57.70" y="532.50" width="54.60" height="60.70" rx="4.6"/>
<rect x="119.40" y="532.50" width="221.30" height="60.70" rx="4.8"/>
<rect x="107.10" y="517.10" width="126.10" height="29.30" rx="5.2"/>
<rect x="379.00" y="166.70" width="54.60" height="60.70" rx="4.6"/>
<rect x="440.70" y="166.70" width="221.30" height="60.70" rx="4.8"/>
<rect x="428.40" y="151.30" width="126.10" height="29.30" rx="5.2"/>
<rect x="379.00" y="271.60" width="54.60" height="60.70" rx="4.6"/>
<rect x="440.70" y="271.60" width="221.30" height="60.70" rx="4.8"/>
<rect x="428.40" y="256.20" width="126.10" height="29.30" rx="5.2"/>
<rect x="379.00" y="376.50" width="54.60" height="60.70" rx="4.6"/>
<rect x="440.70" y="376.50" width="221.30" height="60.70" rx="4.8"/>
<rect x="428.40" y="361.10" width="126.10" height="29.30" rx="5.2"/>
<rect x="379.00" y="481.40" width="54.60" height="60.70" rx="4.6"/>
<rect x="440.70" y="481.40" width="221.30" height="60.70" rx="4.8"/>
<rect x="428.40" y="466.00" width="126.10" height="29.30" rx="5.2"/>
<rect x="379.00" y="586.30" width="54.60" height="60.70" rx="4.6"/>
<rect x="440.70" y="586.30" width="221.30" height="60.70" rx="4.8"/>
<rect x="428.40" y="570.90" width="126.10" height="29.30" rx="5.2"/>
<rect x="76.5" y="768.4" width="567.2" height="234.6" rx="5.2" stroke-width="1.65"/>
</g>
<use href="#ico" x="57.00" y="217.10"/>
<use href="#ico" x="57.00" y="322.00"/>
<use href="#ico" x="57.00" y="426.90"/>
<use href="#ico" x="57.00" y="531.80"/>
<use href="#ico" x="378.30" y="166.00"/>
<use href="#ico" x="378.30" y="270.90"/>
<use href="#ico" x="378.30" y="375.80"/>
<use href="#ico" x="378.30" y="480.70"/>
<use href="#ico" x="378.30" y="585.60"/>
</svg>
<div class="tx">
<div class="hd" style="left:252.38px;top:99.40px;font-size:20.0px;line-height:22.98px;letter-spacing:14.97px">CONTENTS</div>
<div class="ac" style="left:121.40px;top:208.52px;letter-spacing:2.38px">account28</div>
<div class="tt" style="left:141.40px;top:245.03px;font-size:17.2px;line-height:19.76px;letter-spacing:0.74px">The Land of Despair</div>
<div class="pg" style="left:305.00px;top:281.28px;letter-spacing:0.61px">P109</div>
<div class="ac" style="left:121.40px;top:313.42px;letter-spacing:2.38px">account29</div>
<div class="tt" style="left:171.10px;top:345.00px;font-size:12.6px;line-height:14.48px;letter-spacing:0.99px">The Truth Behind</div>
<div class="tt" style="left:162.10px;top:358.30px;font-size:12.6px;line-height:14.48px;letter-spacing:1.07px">the Land of Despair</div>
<div class="pg" style="left:305.00px;top:386.18px;letter-spacing:0.61px">P129</div>
<div class="ac" style="left:121.40px;top:418.31px;letter-spacing:2.38px">account30</div>
<div class="tt" style="left:136.10px;top:454.47px;font-size:15.5px;line-height:17.81px;letter-spacing:0.38px">The Explosive Exclusive</div>
<div class="pg" style="left:305.00px;top:491.08px;letter-spacing:0.61px">P149</div>
<div class="ac" style="left:121.40px;top:523.22px;letter-spacing:2.38px">account31</div>
<div class="tt" style="left:136.10px;top:559.47px;font-size:15.5px;line-height:17.81px;letter-spacing:0.90px">Morning of the Marbles</div>
<div class="pg" style="left:305.00px;top:595.98px;letter-spacing:0.61px">P169</div>
<div class="ac" style="left:442.70px;top:157.42px;letter-spacing:2.38px">account23</div>
<div class="tt" style="left:450.30px;top:193.37px;font-size:15.5px;line-height:17.81px;letter-spacing:0.47px">The Great Flamer Festival</div>
<div class="pg" style="left:626.30px;top:230.18px;letter-spacing:0.61px">P003</div>
<div class="ac" style="left:442.70px;top:262.31px;letter-spacing:2.38px">account24</div>
<div class="tt" style="left:506.00px;top:298.01px;font-size:17.0px;line-height:19.53px;letter-spacing:0.98px">Flame On!</div>
<div class="pg" style="left:626.30px;top:335.08px;letter-spacing:0.61px">P023</div>
<div class="ac" style="left:442.70px;top:367.22px;letter-spacing:2.38px">account25</div>
<div class="tt" style="left:492.60px;top:398.02px;font-size:12.8px;line-height:14.71px;letter-spacing:0.74px">The Real Account</div>
<div class="tt" style="left:501.00px;top:411.42px;font-size:12.8px;line-height:14.71px;letter-spacing:0.77px">Leakpocalypse</div>
<div class="pg" style="left:626.30px;top:439.98px;letter-spacing:0.61px">P043</div>
<div class="ac" style="left:442.70px;top:472.12px;letter-spacing:2.38px">account26</div>
<div class="tt" style="left:513.00px;top:508.73px;font-size:14.0px;line-height:16.09px;letter-spacing:0.60px">Disrespect</div>
<div class="pg" style="left:626.30px;top:544.88px;letter-spacing:0.61px">P063</div>
<div class="ac" style="left:442.70px;top:577.01px;letter-spacing:2.38px">account27</div>
<div class="tt" style="left:511.60px;top:613.47px;font-size:16.5px;line-height:18.96px;letter-spacing:0.56px">All a Lie?</div>
<div class="pg" style="left:626.30px;top:649.78px;letter-spacing:0.61px">P089</div>
<div class="hd" style="left:297.50px;top:723.00px;font-size:21.0px;line-height:24.13px;letter-spacing:13.82px">STORY</div>
<div class="sl" style="left:133.60px;top:799.59px;letter-spacing:0.227px">During the first game, Real Follower Diagnosis, Yuma Mukai and</div>
<div class="sl" style="left:133.60px;top:817.19px;letter-spacing:0.306px">Ayame Kamijo were saved by their chance following of one another.</div>
<div class="sl" style="left:133.60px;top:834.79px;letter-spacing:0.043px">In each of the ensuing contests—The Dislike Game, R.A. Live Game,</div>
<div class="sl" style="left:133.60px;top:852.39px;letter-spacing:0.307px">and Appease the Attention Seeker—they’ve used a mix of wisdom,</div>
<div class="sl" style="left:133.60px;top:869.99px;letter-spacing:0.367px">teamwork, and luck to survive to the end. In game four, Operation:</div>
<div class="sl" style="left:133.60px;top:887.59px;letter-spacing:0.395px">Reply or Regret, the team fought off grueling fatigue to complete a</div>
<div class="sl" style="left:133.60px;top:905.19px;letter-spacing:0.365px">full stamp collection, only to have Mizuki Kurashina interfere right at</div>
<div class="sl" style="left:133.60px;top:922.79px;letter-spacing:0.320px">the end and dash their hopes. Undeterred, Yuma took advantage of</div>
<div class="sl" style="left:133.60px;top:940.39px;letter-spacing:0.430px">the game’s rules to kill off the Marble controlling the game, which</div>
<div class="sl" style="left:133.60px;top:957.99px;letter-spacing:0.202px">allowed Yuma to escape death’s grasp once again...</div>
</div>
</body>
</html>
